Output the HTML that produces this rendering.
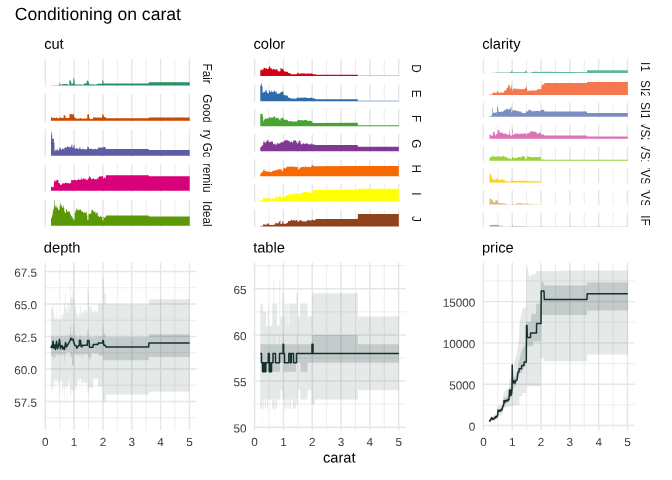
<!DOCTYPE html>
<html lang="en"><head><meta charset="utf-8"><title>Conditioning on carat</title>
<style>
html,body{margin:0;padding:0;background:#fff;}
body{width:672px;height:480px;overflow:hidden;}
svg{display:block;font-family:'Liberation Sans', Arial, Helvetica, sans-serif;will-change:transform;-webkit-font-smoothing:antialiased;}
</style></head><body>
<svg width="672" height="480" viewBox="0 0 672 480">
<rect width="672" height="480" fill="#ffffff"/>
<text transform="rotate(0.04 14.7 19.9)" x="14.7" y="19.9" font-size="17.6" fill="#000000">Conditioning on carat</text>
<text transform="rotate(0.1 44.15 48.7)" x="44.15" y="48.7" font-size="14.67" fill="#000000">cut</text>
<g><line x1="45.3" x2="45.3" y1="59" y2="86.74" stroke="#e6e6e6" stroke-width="1.42"/><line x1="59.71" x2="59.71" y1="59" y2="86.74" stroke="#e6e6e6" stroke-width="0.71"/><line x1="74.12" x2="74.12" y1="59" y2="86.74" stroke="#e6e6e6" stroke-width="1.42"/><line x1="88.53" x2="88.53" y1="59" y2="86.74" stroke="#e6e6e6" stroke-width="0.71"/><line x1="102.94" x2="102.94" y1="59" y2="86.74" stroke="#e6e6e6" stroke-width="1.42"/><line x1="117.35" x2="117.35" y1="59" y2="86.74" stroke="#e6e6e6" stroke-width="0.71"/><line x1="131.76" x2="131.76" y1="59" y2="86.74" stroke="#e6e6e6" stroke-width="1.42"/><line x1="146.17" x2="146.17" y1="59" y2="86.74" stroke="#e6e6e6" stroke-width="0.71"/><line x1="160.58" x2="160.58" y1="59" y2="86.74" stroke="#e6e6e6" stroke-width="1.42"/><line x1="174.99" x2="174.99" y1="59" y2="86.74" stroke="#e6e6e6" stroke-width="0.71"/><line x1="189.4" x2="189.4" y1="59" y2="86.74" stroke="#e6e6e6" stroke-width="1.42"/></g>
<path d="M51,85.58L51,85.23L51.58,85.23L51.58,85.23L52.15,85.23L52.15,85.23L52.73,85.23L52.73,85.23L53.31,85.23L53.31,85.23L53.88,85.23L53.88,85.23L54.46,85.23L54.46,85.23L55.03,85.23L55.03,85.23L55.61,85.23L55.61,85.23L56.19,85.23L56.19,85.23L56.76,85.23L56.76,85.23L57.34,85.23L57.34,85.23L57.92,85.23L57.92,85.23L58.49,85.23L58.49,85L59.07,85L59.07,84.33L59.65,84.33L59.65,82.7L60.22,82.7L60.22,84.77L60.8,84.77L60.8,84.7L61.37,84.7L61.38,84.64L61.95,84.64L61.95,84.36L62.53,84.36L62.53,84.33L63.1,84.33L63.1,84.08L63.68,84.08L63.68,83.98L64.26,83.98L64.26,84.06L64.83,84.06L64.83,84.18L65.41,84.18L65.41,84.07L65.99,84.07L65.99,84.03L66.56,84.03L66.56,84.26L67.14,84.26L67.14,84.35L67.72,84.35L67.72,84.69L68.29,84.69L68.29,84.84L68.87,84.84L68.87,84.71L69.44,84.71L69.44,79.96L70.02,79.96L70.02,80.58L70.6,80.58L70.6,81.3L71.17,81.3L71.17,83.38L71.75,83.38L71.75,84.13L72.33,84.13L72.33,83.82L72.9,83.82L72.9,82.63L73.48,82.63L73.48,77.86L74.06,77.86L74.06,79.76L74.63,79.76L74.63,84.11L75.21,84.11L75.21,84.41L75.78,84.41L75.79,84.4L76.36,84.4L76.36,84.39L76.94,84.39L76.94,84.62L77.51,84.62L77.51,84.44L78.09,84.44L78.09,84.31L78.67,84.31L78.67,84.79L79.24,84.79L79.24,84.45L79.82,84.45L79.82,83.89L80.4,83.89L80.4,84.42L80.97,84.42L80.97,84.41L81.55,84.41L81.55,84.66L82.13,84.66L82.13,84.66L82.7,84.66L82.7,84.66L83.28,84.66L83.28,84.49L83.85,84.49L83.85,83.78L84.43,83.78L84.43,83.46L85.01,83.46L85.01,83.58L85.58,83.58L85.58,83.32L86.16,83.32L86.16,83.71L86.74,83.71L86.74,80.52L87.31,80.52L87.31,80.82L87.89,80.82L87.89,80.69L88.47,80.69L88.47,82.43L89.04,82.43L89.04,84.55L89.62,84.55L89.62,84.22L90.19,84.22L90.2,84.37L90.77,84.37L90.77,84.29L91.35,84.29L91.35,84.4L91.92,84.4L91.92,84.17L92.5,84.17L92.5,84.38L93.08,84.38L93.08,84.56L93.65,84.56L93.65,84.34L94.23,84.34L94.23,84.38L94.81,84.38L94.81,84.64L95.38,84.64L95.38,84.44L95.96,84.44L95.96,84.31L96.54,84.31L96.54,84.33L97.11,84.33L97.11,84.15L97.69,84.15L97.69,84.04L98.26,84.04L98.26,83.55L98.84,83.55L98.84,83.79L99.42,83.79L99.42,83.43L99.99,83.43L99.99,83.67L100.57,83.67L100.57,83.76L101.15,83.76L101.15,83.71L101.72,83.71L101.72,83.75L102.3,83.75L102.3,80.58L102.88,80.58L102.88,80.63L103.45,80.63L103.45,83.58L104.03,83.58L104.03,83.49L104.6,83.49L148.7,83.53L148.9,82.33L189.7,82.33L189.7,85.58 Z" fill="#278f62"/>
<clipPath id="c0_0"><rect x="196.65" y="59" width="30" height="27.74"/></clipPath>
<g clip-path="url(#c0_0)"><text transform="translate(203.15,73.57) rotate(90) translate(0,0.42) scale(1,1.1)" text-anchor="middle" font-size="11.73" fill="#141414">Fair</text></g>
<g><line x1="45.3" x2="45.3" y1="94.07" y2="121.8" stroke="#e6e6e6" stroke-width="1.42"/><line x1="59.71" x2="59.71" y1="94.07" y2="121.8" stroke="#e6e6e6" stroke-width="0.71"/><line x1="74.12" x2="74.12" y1="94.07" y2="121.8" stroke="#e6e6e6" stroke-width="1.42"/><line x1="88.53" x2="88.53" y1="94.07" y2="121.8" stroke="#e6e6e6" stroke-width="0.71"/><line x1="102.94" x2="102.94" y1="94.07" y2="121.8" stroke="#e6e6e6" stroke-width="1.42"/><line x1="117.35" x2="117.35" y1="94.07" y2="121.8" stroke="#e6e6e6" stroke-width="0.71"/><line x1="131.76" x2="131.76" y1="94.07" y2="121.8" stroke="#e6e6e6" stroke-width="1.42"/><line x1="146.17" x2="146.17" y1="94.07" y2="121.8" stroke="#e6e6e6" stroke-width="0.71"/><line x1="160.58" x2="160.58" y1="94.07" y2="121.8" stroke="#e6e6e6" stroke-width="1.42"/><line x1="174.99" x2="174.99" y1="94.07" y2="121.8" stroke="#e6e6e6" stroke-width="0.71"/><line x1="189.4" x2="189.4" y1="94.07" y2="121.8" stroke="#e6e6e6" stroke-width="1.42"/></g>
<path d="M51,120.64L51,117.58L51.58,117.58L51.58,117.37L52.15,117.37L52.15,117.55L52.73,117.55L52.73,118.32L53.31,118.32L53.31,118.1L53.88,118.1L53.88,117.49L54.46,117.49L54.46,118.04L55.03,118.04L55.03,118.33L55.61,118.33L55.61,117.85L56.19,117.85L56.19,117.47L56.76,117.47L56.76,117.86L57.34,117.86L57.34,118.45L57.92,118.45L57.92,118.35L58.49,118.35L58.49,118.17L59.07,118.17L59.07,118.13L59.65,118.13L59.65,117.07L60.22,117.07L60.22,117.87L60.8,117.87L60.8,117.8L61.37,117.8L61.38,118.08L61.95,118.08L61.95,118.03L62.53,118.03L62.53,117.77L63.1,117.77L63.1,117.96L63.68,117.96L63.68,115.03L64.26,115.03L64.26,115.4L64.83,115.4L64.83,115.23L65.41,115.23L65.41,117.81L65.99,117.81L65.99,117.87L66.56,117.87L66.56,117.97L67.14,117.97L67.14,118.18L67.72,118.18L67.72,117.91L68.29,117.91L68.29,117.98L68.87,117.98L68.87,117.86L69.44,117.86L69.44,114.22L70.02,114.22L70.02,113.93L70.6,113.93L70.6,114.31L71.17,114.31L71.17,114.22L71.75,114.22L71.75,114.07L72.33,114.07L72.33,114.65L72.9,114.65L72.9,114.42L73.48,114.42L73.48,113.87L74.06,113.87L74.06,117.1L74.63,117.1L74.63,117.64L75.21,117.64L75.21,118.09L75.78,118.09L75.79,118.41L76.36,118.41L76.36,118.58L76.94,118.58L76.94,118.81L77.51,118.81L77.51,118.46L78.09,118.46L78.09,118.7L78.67,118.7L78.67,118.57L79.24,118.57L79.24,118.53L79.82,118.53L79.82,118.07L80.4,118.07L80.4,118.06L80.97,118.06L80.97,118.46L81.55,118.46L81.55,118.87L82.13,118.87L82.13,118.85L82.7,118.85L82.7,118.63L83.28,118.63L83.28,118.49L83.85,118.49L83.85,118.56L84.43,118.56L84.43,118.53L85.01,118.53L85.01,118.7L85.58,118.7L85.58,118.43L86.16,118.43L86.16,118.33L86.74,118.33L86.74,118.56L87.31,118.56L87.31,114.77L87.89,114.77L87.89,114.54L88.47,114.54L88.47,114.04L89.04,114.04L89.04,117.48L89.62,117.48L89.62,119L90.19,119L90.2,119.13L90.77,119.13L90.77,119.01L91.35,119.01L91.35,119.02L91.92,119.02L91.92,118.99L92.5,118.99L92.5,118.79L93.08,118.79L93.08,117.41L93.65,117.41L93.65,117.23L94.23,117.23L94.23,117.52L94.81,117.52L94.81,117.59L95.38,117.59L95.38,117.42L95.96,117.42L95.96,117.81L96.54,117.81L96.54,117.5L97.11,117.5L97.11,117.46L97.69,117.46L97.69,117.74L98.26,117.74L98.26,117.4L98.84,117.4L98.84,117.6L99.42,117.6L99.42,117.81L99.99,117.81L99.99,117.53L100.57,117.53L100.57,117.69L101.15,117.69L101.15,117.59L101.72,117.59L101.72,117.52L102.3,117.52L102.3,114.09L102.88,114.09L102.88,114.46L103.45,114.46L103.45,115.77L104.03,115.77L104.03,116.91L104.6,116.91L105.5,116.99L105.8,118.29L148.7,118.29L148.9,117.59L189.7,117.59L189.7,120.64 Z" fill="#ca4800"/>
<clipPath id="c0_1"><rect x="196.65" y="94.07" width="30" height="27.74"/></clipPath>
<g clip-path="url(#c0_1)"><text transform="translate(203.15,108.63) rotate(90) translate(0,0.42) scale(1,1.1)" text-anchor="middle" font-size="11.73" fill="#141414">Good</text></g>
<g><line x1="45.3" x2="45.3" y1="129.13" y2="156.87" stroke="#e6e6e6" stroke-width="1.42"/><line x1="59.71" x2="59.71" y1="129.13" y2="156.87" stroke="#e6e6e6" stroke-width="0.71"/><line x1="74.12" x2="74.12" y1="129.13" y2="156.87" stroke="#e6e6e6" stroke-width="1.42"/><line x1="88.53" x2="88.53" y1="129.13" y2="156.87" stroke="#e6e6e6" stroke-width="0.71"/><line x1="102.94" x2="102.94" y1="129.13" y2="156.87" stroke="#e6e6e6" stroke-width="1.42"/><line x1="117.35" x2="117.35" y1="129.13" y2="156.87" stroke="#e6e6e6" stroke-width="0.71"/><line x1="131.76" x2="131.76" y1="129.13" y2="156.87" stroke="#e6e6e6" stroke-width="1.42"/><line x1="146.17" x2="146.17" y1="129.13" y2="156.87" stroke="#e6e6e6" stroke-width="0.71"/><line x1="160.58" x2="160.58" y1="129.13" y2="156.87" stroke="#e6e6e6" stroke-width="1.42"/><line x1="174.99" x2="174.99" y1="129.13" y2="156.87" stroke="#e6e6e6" stroke-width="0.71"/><line x1="189.4" x2="189.4" y1="129.13" y2="156.87" stroke="#e6e6e6" stroke-width="1.42"/></g>
<path d="M51,155.71L51,131.91L51.58,131.91L51.58,134.7L52.15,134.7L52.15,138.76L52.73,138.76L52.73,138.95L53.31,138.95L53.31,138.42L53.88,138.42L53.88,142.54L54.46,142.54L54.46,151.34L55.03,151.34L55.03,150.6L55.61,150.6L55.61,149.25L56.19,149.25L56.19,150.38L56.76,150.38L56.76,149.71L57.34,149.71L57.34,149.33L57.92,149.33L57.92,150.81L58.49,150.81L58.49,150.19L59.07,150.19L59.07,148.69L59.65,148.69L59.65,147.28L60.22,147.28L60.22,148.24L60.8,148.24L60.8,149.6L61.37,149.6L61.38,149.43L61.95,149.43L61.95,148.72L62.53,148.72L62.53,148.63L63.1,148.63L63.1,148.64L63.68,148.64L63.68,149.53L64.26,149.53L64.26,148.12L64.83,148.12L64.83,148.11L65.41,148.11L65.41,146.87L65.99,146.87L65.99,148.03L66.56,148.03L66.56,147.02L67.14,147.02L67.14,146.26L67.72,146.26L67.72,147.04L68.29,147.04L68.29,147.08L68.87,147.08L68.87,146.34L69.44,146.34L69.44,147.69L70.02,147.69L70.02,147.35L70.6,147.35L70.6,147.09L71.17,147.09L71.17,145.55L71.75,145.55L71.75,144.24L72.33,144.24L72.33,147.64L72.9,147.64L72.9,147.54L73.48,147.54L73.48,145.51L74.06,145.51L74.06,144.96L74.63,144.96L74.63,148.72L75.21,148.72L75.21,148.9L75.78,148.9L75.79,147.67L76.36,147.67L76.36,148.35L76.94,148.35L76.94,148.61L77.51,148.61L77.51,148.54L78.09,148.54L78.09,149.14L78.67,149.14L78.67,148.99L79.24,148.99L79.24,147.49L79.82,147.49L79.82,147.38L80.4,147.38L80.4,148.98L80.97,148.98L80.97,149.61L81.55,149.61L81.55,149.06L82.13,149.06L82.13,149.49L82.7,149.49L82.7,148.49L83.28,148.49L83.28,148.75L83.85,148.75L83.85,149.28L84.43,149.28L84.43,149.61L85.01,149.61L85.01,149.38L85.58,149.38L85.58,149.12L86.16,149.12L86.16,149.45L86.74,149.45L86.74,149L87.31,149L87.31,146.58L87.89,146.58L87.89,147.04L88.47,147.04L88.47,147.53L89.04,147.53L89.04,148.73L89.62,148.73L89.62,149.11L90.19,149.11L90.2,148.7L90.77,148.7L90.77,149.12L91.35,149.12L91.35,148.43L91.92,148.43L91.92,149.1L92.5,149.1L92.5,149.38L93.08,149.38L93.08,148.97L93.65,148.97L93.65,149.23L94.23,149.23L94.23,149.34L94.81,149.34L94.81,149.05L95.38,149.05L95.38,148.74L95.96,148.74L95.96,149.52L96.54,149.52L96.54,149.02L97.11,149.02L97.11,149.06L97.69,149.06L97.69,148.62L98.26,148.62L98.26,147.17L98.84,147.17L98.84,148.06L99.42,148.06L99.42,147.23L99.99,147.23L99.99,147.6L100.57,147.6L100.57,147.46L101.15,147.46L101.15,147.6L101.72,147.6L101.72,147.65L102.3,147.65L102.3,147.73L102.88,147.73L102.88,147.33L103.45,147.33L103.45,146.63L104.03,146.63L104.03,147.06L104.6,147.06L105.6,147.46L105.9,148.96L148.7,148.96L148.9,150.06L189.7,150.06L189.7,155.71 Z" fill="#605ba6"/>
<clipPath id="c0_2"><rect x="196.65" y="129.13" width="30" height="27.74"/></clipPath>
<g clip-path="url(#c0_2)"><text transform="translate(203.15,143.7) rotate(90) translate(0,0.42) scale(1,1.1)" text-anchor="middle" font-size="11.73" fill="#141414">Very Good</text></g>
<g><line x1="45.3" x2="45.3" y1="164.2" y2="191.93" stroke="#e6e6e6" stroke-width="1.42"/><line x1="59.71" x2="59.71" y1="164.2" y2="191.93" stroke="#e6e6e6" stroke-width="0.71"/><line x1="74.12" x2="74.12" y1="164.2" y2="191.93" stroke="#e6e6e6" stroke-width="1.42"/><line x1="88.53" x2="88.53" y1="164.2" y2="191.93" stroke="#e6e6e6" stroke-width="0.71"/><line x1="102.94" x2="102.94" y1="164.2" y2="191.93" stroke="#e6e6e6" stroke-width="1.42"/><line x1="117.35" x2="117.35" y1="164.2" y2="191.93" stroke="#e6e6e6" stroke-width="0.71"/><line x1="131.76" x2="131.76" y1="164.2" y2="191.93" stroke="#e6e6e6" stroke-width="1.42"/><line x1="146.17" x2="146.17" y1="164.2" y2="191.93" stroke="#e6e6e6" stroke-width="0.71"/><line x1="160.58" x2="160.58" y1="164.2" y2="191.93" stroke="#e6e6e6" stroke-width="1.42"/><line x1="174.99" x2="174.99" y1="164.2" y2="191.93" stroke="#e6e6e6" stroke-width="0.71"/><line x1="189.4" x2="189.4" y1="164.2" y2="191.93" stroke="#e6e6e6" stroke-width="1.42"/></g>
<path d="M51,190.77L51,187L51.58,187L51.58,186.74L52.15,186.74L52.15,187.23L52.73,187.23L52.73,186.8L53.31,186.8L53.31,187.08L53.88,187.08L53.88,181.69L54.46,181.69L54.46,180.56L55.03,180.56L55.03,181.42L55.61,181.42L55.61,180.17L56.19,180.17L56.19,180.78L56.76,180.78L56.76,179.41L57.34,179.41L57.34,179.95L57.92,179.95L57.92,180.16L58.49,180.16L58.49,183.02L59.07,183.02L59.07,182.9L59.65,182.9L59.65,183.94L60.22,183.94L60.22,184.91L60.8,184.91L60.8,185.03L61.37,185.03L61.38,184.52L61.95,184.52L61.95,183.59L62.53,183.59L62.53,183.42L63.1,183.42L63.1,183.3L63.68,183.3L63.68,183.44L64.26,183.44L64.26,183.6L64.83,183.6L64.83,182.82L65.41,182.82L65.41,182.66L65.99,182.66L65.99,182.66L66.56,182.66L66.56,183.34L67.14,183.34L67.14,183.07L67.72,183.07L67.72,183.36L68.29,183.36L68.29,182.89L68.87,182.89L68.87,183.44L69.44,183.44L69.44,183.53L70.02,183.53L70.02,182.6L70.6,182.6L70.6,183.29L71.17,183.29L71.17,179.99L71.75,179.99L71.75,180.08L72.33,180.08L72.33,180.36L72.9,180.36L72.9,180.12L73.48,180.12L73.48,180.23L74.06,180.23L74.06,179.75L74.63,179.75L74.63,180.11L75.21,180.11L75.21,179.99L75.78,179.99L75.79,180.14L76.36,180.14L76.36,180.48L76.94,180.48L76.94,179.92L77.51,179.92L77.51,180.03L78.09,180.03L78.09,178.53L78.67,178.53L78.67,180.01L79.24,180.01L79.24,179.73L79.82,179.73L79.82,179.6L80.4,179.6L80.4,179.69L80.97,179.69L80.97,177.6L81.55,177.6L81.55,179.67L82.13,179.67L82.13,179.06L82.7,179.06L82.7,179.34L83.28,179.34L83.28,178.05L83.85,178.05L83.85,179.74L84.43,179.74L84.43,178.15L85.01,178.15L85.01,179.05L85.58,179.05L85.58,179.29L86.16,179.29L86.16,179.99L86.74,179.99L86.74,179.35L87.31,179.35L87.31,180.27L87.89,180.27L87.89,179.36L88.47,179.36L88.47,177.99L89.04,177.99L89.04,175.98L89.62,175.98L89.62,177.31L90.19,177.31L90.2,177.13L90.77,177.13L90.77,178.49L91.35,178.49L91.35,179.29L91.92,179.29L91.92,178.85L92.5,178.85L92.5,179.28L93.08,179.28L93.08,178.1L93.65,178.1L93.65,178.91L94.23,178.91L94.23,179.14L94.81,179.14L94.81,179.15L95.38,179.15L95.38,179.14L95.96,179.14L95.96,179.12L96.54,179.12L96.54,179.51L97.11,179.51L97.11,177.87L97.69,177.87L97.69,179.2L98.26,179.2L98.26,177.49L98.84,177.49L98.84,176.51L99.42,176.51L99.42,176.52L99.99,176.52L99.99,176.17L100.57,176.17L100.57,176.56L101.15,176.56L101.15,176.52L101.72,176.52L101.72,176.2L102.3,176.2L102.3,175.78L102.88,175.78L102.88,177.15L103.45,177.15L103.45,178.94L104.03,178.94L104.03,177.61L104.6,177.61L105.6,178.72L105.9,175.22L148.7,175.22L148.9,176.22L189.7,176.22L189.7,190.77 Z" fill="#d90179"/>
<clipPath id="c0_3"><rect x="196.65" y="164.2" width="30" height="27.74"/></clipPath>
<g clip-path="url(#c0_3)"><text transform="translate(203.15,178.77) rotate(90) translate(0,0.42) scale(1,1.1)" text-anchor="middle" font-size="11.73" fill="#141414">Premium</text></g>
<g><line x1="45.3" x2="45.3" y1="199.26" y2="227" stroke="#e6e6e6" stroke-width="1.42"/><line x1="59.71" x2="59.71" y1="199.26" y2="227" stroke="#e6e6e6" stroke-width="0.71"/><line x1="74.12" x2="74.12" y1="199.26" y2="227" stroke="#e6e6e6" stroke-width="1.42"/><line x1="88.53" x2="88.53" y1="199.26" y2="227" stroke="#e6e6e6" stroke-width="0.71"/><line x1="102.94" x2="102.94" y1="199.26" y2="227" stroke="#e6e6e6" stroke-width="1.42"/><line x1="117.35" x2="117.35" y1="199.26" y2="227" stroke="#e6e6e6" stroke-width="0.71"/><line x1="131.76" x2="131.76" y1="199.26" y2="227" stroke="#e6e6e6" stroke-width="1.42"/><line x1="146.17" x2="146.17" y1="199.26" y2="227" stroke="#e6e6e6" stroke-width="0.71"/><line x1="160.58" x2="160.58" y1="199.26" y2="227" stroke="#e6e6e6" stroke-width="1.42"/><line x1="174.99" x2="174.99" y1="199.26" y2="227" stroke="#e6e6e6" stroke-width="0.71"/><line x1="189.4" x2="189.4" y1="199.26" y2="227" stroke="#e6e6e6" stroke-width="1.42"/></g>
<path d="M51,225.84L51,218.31L51.58,218.31L51.58,216.99L52.15,216.99L52.15,215.21L52.73,215.21L52.73,211.23L53.31,211.23L53.31,209.02L53.88,209.02L53.88,206.34L54.46,206.34L54.46,200.14L55.03,200.14L55.03,207.35L55.61,207.35L55.61,204.68L56.19,204.68L56.19,207.6L56.76,207.6L56.76,206.4L57.34,206.4L57.34,208.11L57.92,208.11L57.92,209.77L58.49,209.77L58.49,210.02L59.07,210.02L59.07,209.44L59.65,209.44L59.65,206.17L60.22,206.17L60.22,203.26L60.8,203.26L60.8,205.48L61.37,205.48L61.38,205.28L61.95,205.28L61.95,207.46L62.53,207.46L62.53,207.68L63.1,207.68L63.1,205.53L63.68,205.53L63.68,207.58L64.26,207.58L64.26,211.28L64.83,211.28L64.83,212.85L65.41,212.85L65.41,213.01L65.99,213.01L65.99,209.52L66.56,209.52L66.56,209.58L67.14,209.58L67.14,211.84L67.72,211.84L67.72,211.51L68.29,211.51L68.29,211.48L68.87,211.48L68.87,211.51L69.44,211.51L69.44,211.64L70.02,211.64L70.02,213.96L70.6,213.96L70.6,215.31L71.17,215.31L71.17,216.16L71.75,216.16L71.75,216.46L72.33,216.46L72.33,218.29L72.9,218.29L72.9,218.29L73.48,218.29L73.48,220.6L74.06,220.6L74.06,219.77L74.63,219.77L74.63,213.19L75.21,213.19L75.21,211.46L75.78,211.46L75.79,209.83L76.36,209.83L76.36,208.23L76.94,208.23L76.94,209.18L77.51,209.18L77.51,210.31L78.09,210.31L78.09,210.59L78.67,210.59L78.67,209.43L79.24,209.43L79.24,210.04L79.82,210.04L79.82,209.67L80.4,209.67L80.4,209.58L80.97,209.58L80.97,211.32L81.55,211.32L81.55,210.72L82.13,210.72L82.13,211.56L82.7,211.56L82.7,212.3L83.28,212.3L83.28,212.65L83.85,212.65L83.85,212.07L84.43,212.07L84.43,212.63L85.01,212.63L85.01,212.67L85.58,212.67L85.58,212.94L86.16,212.94L86.16,211.46L86.74,211.46L86.74,215.28L87.31,215.28L87.31,219.84L87.89,219.84L87.89,220.07L88.47,220.07L88.47,214.33L89.04,214.33L89.04,213.82L89.62,213.82L89.62,214.04L90.19,214.04L90.2,214.12L90.77,214.12L90.77,213.01L91.35,213.01L91.35,210.34L91.92,210.34L91.92,209.75L92.5,209.75L92.5,210.04L93.08,210.04L93.08,211.27L93.65,211.27L93.65,211.66L94.23,211.66L94.23,212.33L94.81,212.33L94.81,211.36L95.38,211.36L95.38,213.53L95.96,213.53L95.96,212.74L96.54,212.74L96.54,213.58L97.11,213.58L97.11,212.08L97.69,212.08L97.69,216.25L98.26,216.25L98.26,215.5L98.84,215.5L98.84,216.46L99.42,216.46L99.42,217.04L99.99,217.04L99.99,215.69L100.57,215.69L100.57,216.92L101.15,216.92L101.15,216.88L101.72,216.88L101.72,216.37L102.3,216.37L102.3,220.2L102.88,220.2L102.88,220.54L103.45,220.54L103.45,217.01L104.03,217.01L104.03,217.78L104.6,217.78L105.8,217.09L106.1,215.59L148.7,215.59L148.9,216.39L189.7,216.39L189.7,225.84 Z" fill="#5a9806"/>
<clipPath id="c0_4"><rect x="196.65" y="199.26" width="30" height="27.74"/></clipPath>
<g clip-path="url(#c0_4)"><text transform="translate(203.15,213.83) rotate(90) translate(0,0.42) scale(1,1.1)" text-anchor="middle" font-size="11.73" fill="#141414">Ideal</text></g>
<text transform="rotate(0.1 253.45 48.7)" x="253.45" y="48.7" font-size="14.67" fill="#000000">color</text>
<g><line x1="254.6" x2="254.6" y1="59" y2="76.72" stroke="#e6e6e6" stroke-width="1.42"/><line x1="269.01" x2="269.01" y1="59" y2="76.72" stroke="#e6e6e6" stroke-width="0.71"/><line x1="283.42" x2="283.42" y1="59" y2="76.72" stroke="#e6e6e6" stroke-width="1.42"/><line x1="297.83" x2="297.83" y1="59" y2="76.72" stroke="#e6e6e6" stroke-width="0.71"/><line x1="312.24" x2="312.24" y1="59" y2="76.72" stroke="#e6e6e6" stroke-width="1.42"/><line x1="326.65" x2="326.65" y1="59" y2="76.72" stroke="#e6e6e6" stroke-width="0.71"/><line x1="341.06" x2="341.06" y1="59" y2="76.72" stroke="#e6e6e6" stroke-width="1.42"/><line x1="355.47" x2="355.47" y1="59" y2="76.72" stroke="#e6e6e6" stroke-width="0.71"/><line x1="369.88" x2="369.88" y1="59" y2="76.72" stroke="#e6e6e6" stroke-width="1.42"/><line x1="384.29" x2="384.29" y1="59" y2="76.72" stroke="#e6e6e6" stroke-width="0.71"/><line x1="398.7" x2="398.7" y1="59" y2="76.72" stroke="#e6e6e6" stroke-width="1.42"/></g>
<path d="M260.3,76.11L260.3,69.91L260.88,69.91L260.88,69.85L261.45,69.85L261.45,70.05L262.03,70.05L262.03,70.43L262.61,70.43L262.61,68.68L263.18,68.68L263.18,69.25L263.76,69.25L263.76,67.52L264.33,67.52L264.33,68.1L264.91,68.1L264.91,68.34L265.49,68.34L265.49,68.58L266.06,68.58L266.06,67.78L266.64,67.78L266.64,68.92L267.22,68.92L267.22,68.89L267.79,68.89L267.79,68.9L268.37,68.9L268.37,68.3L268.95,68.3L268.95,66.55L269.52,66.55L269.52,66.36L270.1,66.36L270.1,68.29L270.67,68.29L270.68,68.38L271.25,68.38L271.25,68.2L271.83,68.2L271.83,69.25L272.4,69.25L272.4,69.63L272.98,69.63L272.98,69.01L273.56,69.01L273.56,68.47L274.13,68.47L274.13,69.75L274.71,69.75L274.71,69.46L275.29,69.46L275.29,69.13L275.86,69.13L275.86,69.39L276.44,69.39L276.44,69.32L277.02,69.32L277.02,69.43L277.59,69.43L277.59,70.96L278.17,70.96L278.17,71.2L278.74,71.2L278.74,71.16L279.32,71.16L279.32,71.53L279.9,71.53L279.9,71.04L280.47,71.04L280.47,67.96L281.05,67.96L281.05,68.38L281.63,68.38L281.63,68.75L282.2,68.75L282.2,69.1L282.78,69.1L282.78,68.78L283.36,68.78L283.36,70.2L283.93,70.2L283.93,71.23L284.51,71.23L284.51,71.62L285.08,71.62L285.09,71.55L285.66,71.55L285.66,71.74L286.24,71.74L286.24,71.83L286.81,71.83L286.81,71.59L287.39,71.59L287.39,72.03L287.97,72.03L287.97,73.07L288.54,73.07L288.54,72.78L289.12,72.78L289.12,73.17L289.7,73.17L289.7,73.04L290.27,73.04L290.27,73.58L290.85,73.58L290.85,74.31L291.43,74.31L291.43,74.41L292,74.41L292,74.19L292.58,74.19L292.58,74.11L293.15,74.11L293.15,74.41L293.73,74.41L293.73,74.27L294.31,74.27L294.31,74.29L294.88,74.29L294.88,74.05L295.46,74.05L295.46,74.41L296.04,74.41L296.04,74.26L296.61,74.26L296.61,74.1L297.19,74.1L297.19,72.93L297.77,72.93L297.77,72.61L298.34,72.61L298.34,73.59L298.92,73.59L298.92,73.56L299.49,73.56L299.5,73.65L300.07,73.65L300.07,73.76L300.65,73.76L300.65,73.38L301.22,73.38L301.22,73.29L301.8,73.29L301.8,73.53L302.38,73.53L302.38,73.59L302.95,73.59L302.95,73.31L303.53,73.31L303.53,73.45L304.11,73.45L304.11,73.49L304.68,73.49L304.68,73.38L305.26,73.38L305.26,73.68L305.84,73.68L305.84,73.67L306.41,73.67L306.41,73.51L306.99,73.51L306.99,73.71L307.56,73.71L307.56,73.52L308.14,73.52L308.14,73.49L308.72,73.49L308.72,73.43L309.29,73.43L309.29,73.44L309.87,73.44L309.87,73.76L310.45,73.76L310.45,73.55L311.02,73.55L311.02,73.47L311.6,73.47L311.6,73.36L312.18,73.36L312.18,73.69L312.75,73.69L312.75,74.26L313.33,74.26L313.33,74.25L313.9,74.25L315.5,74.21L316,74.67L357.7,74.67L357.9,75.66L398.8,75.66L398.8,76.11 Z" fill="#d50015"/>
<clipPath id="c1_0"><rect x="405.95" y="59" width="30" height="17.72"/></clipPath>
<g clip-path="url(#c1_0)"><text transform="translate(412.45,68.56) rotate(90) translate(0,0.42) scale(1,1.1)" text-anchor="middle" font-size="11.73" fill="#141414">D</text></g>
<g><line x1="254.6" x2="254.6" y1="84.05" y2="101.76" stroke="#e6e6e6" stroke-width="1.42"/><line x1="269.01" x2="269.01" y1="84.05" y2="101.76" stroke="#e6e6e6" stroke-width="0.71"/><line x1="283.42" x2="283.42" y1="84.05" y2="101.76" stroke="#e6e6e6" stroke-width="1.42"/><line x1="297.83" x2="297.83" y1="84.05" y2="101.76" stroke="#e6e6e6" stroke-width="0.71"/><line x1="312.24" x2="312.24" y1="84.05" y2="101.76" stroke="#e6e6e6" stroke-width="1.42"/><line x1="326.65" x2="326.65" y1="84.05" y2="101.76" stroke="#e6e6e6" stroke-width="0.71"/><line x1="341.06" x2="341.06" y1="84.05" y2="101.76" stroke="#e6e6e6" stroke-width="1.42"/><line x1="355.47" x2="355.47" y1="84.05" y2="101.76" stroke="#e6e6e6" stroke-width="0.71"/><line x1="369.88" x2="369.88" y1="84.05" y2="101.76" stroke="#e6e6e6" stroke-width="1.42"/><line x1="384.29" x2="384.29" y1="84.05" y2="101.76" stroke="#e6e6e6" stroke-width="0.71"/><line x1="398.7" x2="398.7" y1="84.05" y2="101.76" stroke="#e6e6e6" stroke-width="1.42"/></g>
<path d="M260.3,101.16L260.3,85.38L260.88,85.38L260.88,85.19L261.45,85.19L261.45,83.36L262.03,83.36L262.03,86.71L262.61,86.71L262.61,93.05L263.18,93.05L263.18,92.17L263.76,92.17L263.76,91.71L264.33,91.71L264.33,91.82L264.91,91.82L264.91,92.05L265.49,92.05L265.49,90.1L266.06,90.1L266.06,90.1L266.64,90.1L266.64,91.71L267.22,91.71L267.22,93.02L267.79,93.02L267.79,93.46L268.37,93.46L268.37,93.03L268.95,93.03L268.95,90.11L269.52,90.11L269.52,91.02L270.1,91.02L270.1,91.94L270.67,91.94L270.68,92.37L271.25,92.37L271.25,90.62L271.83,90.62L271.83,91.66L272.4,91.66L272.4,91.92L272.98,91.92L272.98,92.27L273.56,92.27L273.56,91.15L274.13,91.15L274.13,90.26L274.71,90.26L274.71,91.57L275.29,91.57L275.29,91.95L275.86,91.95L275.86,91.22L276.44,91.22L276.44,93.29L277.02,93.29L277.02,93.81L277.59,93.81L277.59,93.84L278.17,93.84L278.17,93.3L278.74,93.3L278.74,94.01L279.32,94.01L279.32,93.25L279.9,93.25L279.9,93.15L280.47,93.15L280.47,91.84L281.05,91.84L281.05,92.25L281.63,92.25L281.63,91.95L282.2,91.95L282.2,91.18L282.78,91.18L282.78,91.77L283.36,91.77L283.36,94.67L283.93,94.67L283.93,95.07L284.51,95.07L284.51,95.18L285.08,95.18L285.09,95.35L285.66,95.35L285.66,95.44L286.24,95.44L286.24,95.55L286.81,95.55L286.81,95.59L287.39,95.59L287.39,96.3L287.97,96.3L287.97,97.49L288.54,97.49L288.54,97.75L289.12,97.75L289.12,97.69L289.7,97.69L289.7,97.74L290.27,97.74L290.27,98.34L290.85,98.34L290.85,98.66L291.43,98.66L291.43,98.77L292,98.77L292,98.37L292.58,98.37L292.58,98.74L293.15,98.74L293.15,98.87L293.73,98.87L293.73,98.6L294.31,98.6L294.31,98.66L294.88,98.66L294.88,98.52L295.46,98.52L295.46,98.63L296.04,98.63L296.04,98.37L296.61,98.37L296.61,98.52L297.19,98.52L297.19,97.51L297.77,97.51L297.77,97.38L298.34,97.38L298.34,97.65L298.92,97.65L298.92,97.88L299.49,97.88L299.5,97.44L300.07,97.44L300.07,97.89L300.65,97.89L300.65,97.5L301.22,97.5L301.22,97.49L301.8,97.49L301.8,97.51L302.38,97.51L302.38,97.91L302.95,97.91L302.95,97.44L303.53,97.44L303.53,97.75L304.11,97.75L304.11,97.54L304.68,97.54L304.68,97.7L305.26,97.7L305.26,97.25L305.84,97.25L305.84,97.75L306.41,97.75L306.41,97.69L306.99,97.69L306.99,97.9L307.56,97.9L307.56,98.22L308.14,98.22L308.14,98.04L308.72,98.04L308.72,98L309.29,98L309.29,97.91L309.87,97.91L309.87,98.02L310.45,98.02L310.45,97.63L311.02,97.63L311.02,97.6L311.6,97.6L311.6,97.73L312.18,97.73L312.18,98.22L312.75,98.22L312.75,98.45L313.33,98.45L313.33,98.22L313.9,98.22L315,98.56L315.4,99.16L357.7,99.16L357.9,100.63L398.8,100.63L398.8,101.16 Z" fill="#2e6bab"/>
<clipPath id="c1_1"><rect x="405.95" y="84.05" width="30" height="17.72"/></clipPath>
<g clip-path="url(#c1_1)"><text transform="translate(412.45,93.61) rotate(90) translate(0,0.42) scale(1,1.1)" text-anchor="middle" font-size="11.73" fill="#141414">E</text></g>
<g><line x1="254.6" x2="254.6" y1="109.09" y2="126.81" stroke="#e6e6e6" stroke-width="1.42"/><line x1="269.01" x2="269.01" y1="109.09" y2="126.81" stroke="#e6e6e6" stroke-width="0.71"/><line x1="283.42" x2="283.42" y1="109.09" y2="126.81" stroke="#e6e6e6" stroke-width="1.42"/><line x1="297.83" x2="297.83" y1="109.09" y2="126.81" stroke="#e6e6e6" stroke-width="0.71"/><line x1="312.24" x2="312.24" y1="109.09" y2="126.81" stroke="#e6e6e6" stroke-width="1.42"/><line x1="326.65" x2="326.65" y1="109.09" y2="126.81" stroke="#e6e6e6" stroke-width="0.71"/><line x1="341.06" x2="341.06" y1="109.09" y2="126.81" stroke="#e6e6e6" stroke-width="1.42"/><line x1="355.47" x2="355.47" y1="109.09" y2="126.81" stroke="#e6e6e6" stroke-width="0.71"/><line x1="369.88" x2="369.88" y1="109.09" y2="126.81" stroke="#e6e6e6" stroke-width="1.42"/><line x1="384.29" x2="384.29" y1="109.09" y2="126.81" stroke="#e6e6e6" stroke-width="0.71"/><line x1="398.7" x2="398.7" y1="109.09" y2="126.81" stroke="#e6e6e6" stroke-width="1.42"/></g>
<path d="M260.3,126.21L260.3,113.96L260.88,113.96L260.88,113.8L261.45,113.8L261.45,113.99L262.03,113.99L262.03,113.66L262.61,113.66L262.61,116.74L263.18,116.74L263.18,121.45L263.76,121.45L263.76,120.34L264.33,120.34L264.33,119.33L264.91,119.33L264.91,117.71L265.49,117.71L265.49,118.99L266.06,118.99L266.06,119.07L266.64,119.07L266.64,118.77L267.22,118.77L267.22,117.76L267.79,117.76L267.79,119.02L268.37,119.02L268.37,117.83L268.95,117.83L268.95,117.34L269.52,117.34L269.52,117.6L270.1,117.6L270.1,117.73L270.67,117.73L270.68,117.72L271.25,117.72L271.25,117.37L271.83,117.37L271.83,117.72L272.4,117.72L272.4,117.54L272.98,117.54L272.98,117.39L273.56,117.39L273.56,116.34L274.13,116.34L274.13,116.3L274.71,116.3L274.71,116.87L275.29,116.87L275.29,118.23L275.86,118.23L275.86,118.05L276.44,118.05L276.44,117.82L277.02,117.82L277.02,117.94L277.59,117.94L277.59,118.4L278.17,118.4L278.17,117.59L278.74,117.59L278.74,118.92L279.32,118.92L279.32,120.13L279.9,120.13L279.9,120.52L280.47,120.52L280.47,118.6L281.05,118.6L281.05,117.91L281.63,117.91L281.63,118.23L282.2,118.23L282.2,117.97L282.78,117.97L282.78,117.27L283.36,117.27L283.36,119.36L283.93,119.36L283.93,119.39L284.51,119.39L284.51,119.72L285.08,119.72L285.09,119.66L285.66,119.66L285.66,119.81L286.24,119.81L286.24,120L286.81,120L286.81,119.53L287.39,119.53L287.39,120.31L287.97,120.31L287.97,121.62L288.54,121.62L288.54,121.09L289.12,121.09L289.12,121.55L289.7,121.55L289.7,121.09L290.27,121.09L290.27,120.94L290.85,120.94L290.85,121.49L291.43,121.49L291.43,121.53L292,121.53L292,120.94L292.58,120.94L292.58,121.68L293.15,121.68L293.15,121.66L293.73,121.66L293.73,121.62L294.31,121.62L294.31,121.67L294.88,121.67L294.88,121.23L295.46,121.23L295.46,121.64L296.04,121.64L296.04,122.04L296.61,122.04L296.61,121.11L297.19,121.11L297.19,120.44L297.77,120.44L297.77,120.45L298.34,120.45L298.34,119.78L298.92,119.78L298.92,120.05L299.49,120.05L299.5,120.09L300.07,120.09L300.07,120.5L300.65,120.5L300.65,120.32L301.22,120.32L301.22,119.86L301.8,119.86L301.8,120.12L302.38,120.12L302.38,120.38L302.95,120.38L302.95,120.72L303.53,120.72L303.53,120.17L304.11,120.17L304.11,120.25L304.68,120.25L304.68,120.01L305.26,120.01L305.26,120.1L305.84,120.1L305.84,120.04L306.41,120.04L306.41,120.29L306.99,120.29L306.99,120.8L307.56,120.8L307.56,121.02L308.14,121.02L308.14,120.81L308.72,120.81L308.72,120.79L309.29,120.79L309.29,120.8L309.87,120.8L309.87,121.11L310.45,121.11L310.45,120.79L311.02,120.79L311.02,120.94L311.6,120.94L311.6,121.18L312.18,121.18L312.18,122.8L312.75,122.8L312.75,122.68L313.33,122.68L313.33,122.9L313.9,122.9L357.7,122.81L357.9,125.25L398.8,125.25L398.8,126.21 Z" fill="#48a234"/>
<clipPath id="c1_2"><rect x="405.95" y="109.09" width="30" height="17.72"/></clipPath>
<g clip-path="url(#c1_2)"><text transform="translate(412.45,118.65) rotate(90) translate(0,0.42) scale(1,1.1)" text-anchor="middle" font-size="11.73" fill="#141414">F</text></g>
<g><line x1="254.6" x2="254.6" y1="134.14" y2="151.86" stroke="#e6e6e6" stroke-width="1.42"/><line x1="269.01" x2="269.01" y1="134.14" y2="151.86" stroke="#e6e6e6" stroke-width="0.71"/><line x1="283.42" x2="283.42" y1="134.14" y2="151.86" stroke="#e6e6e6" stroke-width="1.42"/><line x1="297.83" x2="297.83" y1="134.14" y2="151.86" stroke="#e6e6e6" stroke-width="0.71"/><line x1="312.24" x2="312.24" y1="134.14" y2="151.86" stroke="#e6e6e6" stroke-width="1.42"/><line x1="326.65" x2="326.65" y1="134.14" y2="151.86" stroke="#e6e6e6" stroke-width="0.71"/><line x1="341.06" x2="341.06" y1="134.14" y2="151.86" stroke="#e6e6e6" stroke-width="1.42"/><line x1="355.47" x2="355.47" y1="134.14" y2="151.86" stroke="#e6e6e6" stroke-width="0.71"/><line x1="369.88" x2="369.88" y1="134.14" y2="151.86" stroke="#e6e6e6" stroke-width="1.42"/><line x1="384.29" x2="384.29" y1="134.14" y2="151.86" stroke="#e6e6e6" stroke-width="0.71"/><line x1="398.7" x2="398.7" y1="134.14" y2="151.86" stroke="#e6e6e6" stroke-width="1.42"/></g>
<path d="M260.3,151.25L260.3,147.02L260.88,147.02L260.88,147.28L261.45,147.28L261.45,145.74L262.03,145.74L262.03,145.81L262.61,145.81L262.61,145.02L263.18,145.02L263.18,142.27L263.76,142.27L263.76,140.62L264.33,140.62L264.33,142.45L264.91,142.45L264.91,143.29L265.49,143.29L265.49,141.92L266.06,141.92L266.06,141.38L266.64,141.38L266.64,141.05L267.22,141.05L267.22,139.73L267.79,139.73L267.79,140.22L268.37,140.22L268.37,141.56L268.95,141.56L268.95,142.24L269.52,142.24L269.52,141.92L270.1,141.92L270.1,141.75L270.67,141.75L270.68,141.58L271.25,141.58L271.25,141.57L271.83,141.57L271.83,141.77L272.4,141.77L272.4,141.54L272.98,141.54L272.98,143.72L273.56,143.72L273.56,144.24L274.13,144.24L274.13,144.21L274.71,144.21L274.71,143.33L275.29,143.33L275.29,144.43L275.86,144.43L275.86,145.31L276.44,145.31L276.44,143.66L277.02,143.66L277.02,142.78L277.59,142.78L277.59,143.77L278.17,143.77L278.17,143.61L278.74,143.61L278.74,143.48L279.32,143.48L279.32,143.45L279.9,143.45L279.9,143.16L280.47,143.16L280.47,142.32L281.05,142.32L281.05,142.4L281.63,142.4L281.63,141.76L282.2,141.76L282.2,142L282.78,142L282.78,142.44L283.36,142.44L283.36,141.41L283.93,141.41L283.93,140.65L284.51,140.65L284.51,140.54L285.08,140.54L285.09,139.68L285.66,139.68L285.66,140.51L286.24,140.51L286.24,140.22L286.81,140.22L286.81,140.16L287.39,140.16L287.39,140.32L287.97,140.32L287.97,140.84L288.54,140.84L288.54,140.99L289.12,140.99L289.12,140.67L289.7,140.67L289.7,142.77L290.27,142.77L290.27,141.74L290.85,141.74L290.85,141.89L291.43,141.89L291.43,141.21L292,141.21L292,142.19L292.58,142.19L292.58,142.83L293.15,142.83L293.15,140.4L293.73,140.4L293.73,140.16L294.31,140.16L294.31,140.47L294.88,140.47L294.88,140.72L295.46,140.72L295.46,140.27L296.04,140.27L296.04,141.16L296.61,141.16L296.61,142.71L297.19,142.71L297.19,143.76L297.77,143.76L297.77,142.93L298.34,142.93L298.34,141.68L298.92,141.68L298.92,140.75L299.49,140.75L299.5,140.29L300.07,140.29L300.07,141.59L300.65,141.59L300.65,144.06L301.22,144.06L301.22,144.66L301.8,144.66L301.8,143.93L302.38,143.93L302.38,143.66L302.95,143.66L302.95,143.4L303.53,143.4L303.53,143.09L304.11,143.09L304.11,143.93L304.68,143.93L304.68,143.71L305.26,143.71L305.26,143.76L305.84,143.76L305.84,143.16L306.41,143.16L306.41,143.68L306.99,143.68L306.99,143.15L307.56,143.15L307.56,143.83L308.14,143.83L308.14,144.14L308.72,144.14L308.72,144.13L309.29,144.13L309.29,144.43L309.87,144.43L309.87,144.43L310.45,144.43L310.45,144.08L311.02,144.08L311.02,144.15L311.6,144.15L311.6,143.11L312.18,143.11L312.18,144.53L312.75,144.53L312.75,144.37L313.33,144.37L313.33,144.62L313.9,144.62L315,144.65L315.3,145.05L357.7,145.05L357.9,146.85L398.8,146.85L398.8,151.25 Z" fill="#813894"/>
<clipPath id="c1_3"><rect x="405.95" y="134.14" width="30" height="17.72"/></clipPath>
<g clip-path="url(#c1_3)"><text transform="translate(412.45,143.7) rotate(90) translate(0,0.42) scale(1,1.1)" text-anchor="middle" font-size="11.73" fill="#141414">G</text></g>
<g><line x1="254.6" x2="254.6" y1="159.19" y2="176.91" stroke="#e6e6e6" stroke-width="1.42"/><line x1="269.01" x2="269.01" y1="159.19" y2="176.91" stroke="#e6e6e6" stroke-width="0.71"/><line x1="283.42" x2="283.42" y1="159.19" y2="176.91" stroke="#e6e6e6" stroke-width="1.42"/><line x1="297.83" x2="297.83" y1="159.19" y2="176.91" stroke="#e6e6e6" stroke-width="0.71"/><line x1="312.24" x2="312.24" y1="159.19" y2="176.91" stroke="#e6e6e6" stroke-width="1.42"/><line x1="326.65" x2="326.65" y1="159.19" y2="176.91" stroke="#e6e6e6" stroke-width="0.71"/><line x1="341.06" x2="341.06" y1="159.19" y2="176.91" stroke="#e6e6e6" stroke-width="1.42"/><line x1="355.47" x2="355.47" y1="159.19" y2="176.91" stroke="#e6e6e6" stroke-width="0.71"/><line x1="369.88" x2="369.88" y1="159.19" y2="176.91" stroke="#e6e6e6" stroke-width="1.42"/><line x1="384.29" x2="384.29" y1="159.19" y2="176.91" stroke="#e6e6e6" stroke-width="0.71"/><line x1="398.7" x2="398.7" y1="159.19" y2="176.91" stroke="#e6e6e6" stroke-width="1.42"/></g>
<path d="M260.3,176.3L260.3,173.61L260.88,173.61L260.88,173.97L261.45,173.97L261.45,172.22L262.03,172.22L262.03,172.05L262.61,172.05L262.61,171.78L263.18,171.78L263.18,169.88L263.76,169.88L263.76,168.97L264.33,168.97L264.33,171.25L264.91,171.25L264.91,170.92L265.49,170.92L265.49,170.72L266.06,170.72L266.06,171.21L266.64,171.21L266.64,171.48L267.22,171.48L267.22,172.01L267.79,172.01L267.79,171.37L268.37,171.37L268.37,171.29L268.95,171.29L268.95,171.81L269.52,171.81L269.52,171.93L270.1,171.93L270.1,171.9L270.67,171.9L270.68,172.14L271.25,172.14L271.25,172.02L271.83,172.02L271.83,171.7L272.4,171.7L272.4,170.73L272.98,170.73L272.98,170.91L273.56,170.91L273.56,170.75L274.13,170.75L274.13,170.54L274.71,170.54L274.71,170.37L275.29,170.37L275.29,170.39L275.86,170.39L275.86,170.16L276.44,170.16L276.44,169.63L277.02,169.63L277.02,170.18L277.59,170.18L277.59,169.59L278.17,169.59L278.17,169.23L278.74,169.23L278.74,169.25L279.32,169.25L279.32,169.55L279.9,169.55L279.9,169.14L280.47,169.14L280.47,169.29L281.05,169.29L281.05,169.29L281.63,169.29L281.63,170.99L282.2,170.99L282.2,171.52L282.78,171.52L282.78,169.49L283.36,169.49L283.36,168.16L283.93,168.16L283.93,168.3L284.51,168.3L284.51,167.35L285.08,167.35L285.09,168.82L285.66,168.82L285.66,168L286.24,168L286.24,167.18L286.81,167.18L286.81,166.46L287.39,166.46L287.39,166.66L287.97,166.66L287.97,166.67L288.54,166.67L288.54,166.77L289.12,166.77L289.12,166.88L289.7,166.88L289.7,166.57L290.27,166.57L290.27,166.31L290.85,166.31L290.85,166.81L291.43,166.81L291.43,166.63L292,166.63L292,166.98L292.58,166.98L292.58,165.96L293.15,165.96L293.15,166.49L293.73,166.49L293.73,167.12L294.31,167.12L294.31,167.14L294.88,167.14L294.88,166.66L295.46,166.66L295.46,166.64L296.04,166.64L296.04,166.97L296.61,166.97L296.61,167.27L297.19,167.27L297.19,166.53L297.77,166.53L297.77,168.57L298.34,168.57L298.34,169.69L298.92,169.69L298.92,169.25L299.49,169.25L299.5,167.17L300.07,167.17L300.07,167.43L300.65,167.43L300.65,167.66L301.22,167.66L301.22,167.03L301.8,167.03L301.8,166.99L302.38,166.99L302.38,166.92L302.95,166.92L302.95,166.6L303.53,166.6L303.53,166.96L304.11,166.96L304.11,167.27L304.68,167.27L304.68,166.7L305.26,166.7L305.26,166.23L305.84,166.23L305.84,166.38L306.41,166.38L306.41,167.36L306.99,167.36L306.99,167.08L307.56,167.08L307.56,166.91L308.14,166.91L308.14,166.84L308.72,166.84L308.72,167.28L309.29,167.28L309.29,166.99L309.87,166.99L309.87,167.08L310.45,167.08L310.45,167.14L311.02,167.14L311.02,165.74L311.6,165.74L311.6,166.37L312.18,166.37L312.18,165.03L312.75,165.03L312.75,165.32L313.33,165.32L313.33,166.25L313.9,166.25L357.7,166.1L357.9,166L398.8,166L398.8,176.3 Z" fill="#f86800"/>
<clipPath id="c1_4"><rect x="405.95" y="159.19" width="30" height="17.72"/></clipPath>
<g clip-path="url(#c1_4)"><text transform="translate(412.45,168.75) rotate(90) translate(0,0.42) scale(1,1.1)" text-anchor="middle" font-size="11.73" fill="#141414">H</text></g>
<g><line x1="254.6" x2="254.6" y1="184.24" y2="201.95" stroke="#e6e6e6" stroke-width="1.42"/><line x1="269.01" x2="269.01" y1="184.24" y2="201.95" stroke="#e6e6e6" stroke-width="0.71"/><line x1="283.42" x2="283.42" y1="184.24" y2="201.95" stroke="#e6e6e6" stroke-width="1.42"/><line x1="297.83" x2="297.83" y1="184.24" y2="201.95" stroke="#e6e6e6" stroke-width="0.71"/><line x1="312.24" x2="312.24" y1="184.24" y2="201.95" stroke="#e6e6e6" stroke-width="1.42"/><line x1="326.65" x2="326.65" y1="184.24" y2="201.95" stroke="#e6e6e6" stroke-width="0.71"/><line x1="341.06" x2="341.06" y1="184.24" y2="201.95" stroke="#e6e6e6" stroke-width="1.42"/><line x1="355.47" x2="355.47" y1="184.24" y2="201.95" stroke="#e6e6e6" stroke-width="0.71"/><line x1="369.88" x2="369.88" y1="184.24" y2="201.95" stroke="#e6e6e6" stroke-width="1.42"/><line x1="384.29" x2="384.29" y1="184.24" y2="201.95" stroke="#e6e6e6" stroke-width="0.71"/><line x1="398.7" x2="398.7" y1="184.24" y2="201.95" stroke="#e6e6e6" stroke-width="1.42"/></g>
<path d="M260.3,201.35L260.3,200.41L260.88,200.41L260.88,200.14L261.45,200.14L261.45,199.89L262.03,199.89L262.03,199.67L262.61,199.67L262.61,199.37L263.18,199.37L263.18,197.87L263.76,197.87L263.76,196.62L264.33,196.62L264.33,197.97L264.91,197.97L264.91,198.3L265.49,198.3L265.49,198.16L266.06,198.16L266.06,198.46L266.64,198.46L266.64,198.08L267.22,198.08L267.22,196.54L267.79,196.54L267.79,197.7L268.37,197.7L268.37,198.74L268.95,198.74L268.95,198.66L269.52,198.66L269.52,198.99L270.1,198.99L270.1,198.79L270.67,198.79L270.68,198.96L271.25,198.96L271.25,198.48L271.83,198.48L271.83,198.39L272.4,198.39L272.4,198.55L272.98,198.55L272.98,198.35L273.56,198.35L273.56,198.62L274.13,198.62L274.13,198.38L274.71,198.38L274.71,198.79L275.29,198.79L275.29,196.53L275.86,196.53L275.86,196.54L276.44,196.54L276.44,196.77L277.02,196.77L277.02,197.6L277.59,197.6L277.59,197.32L278.17,197.32L278.17,197.32L278.74,197.32L278.74,196.87L279.32,196.87L279.32,195.72L279.9,195.72L279.9,193.45L280.47,193.45L280.47,197.6L281.05,197.6L281.05,196.89L281.63,196.89L281.63,197.3L282.2,197.3L282.2,197.46L282.78,197.46L282.78,197.66L283.36,197.66L283.36,197.98L283.93,197.98L283.93,196.65L284.51,196.65L284.51,196.69L285.08,196.69L285.09,196.42L285.66,196.42L285.66,196.28L286.24,196.28L286.24,195.52L286.81,195.52L286.81,194.67L287.39,194.67L287.39,195.04L287.97,195.04L287.97,194.21L288.54,194.21L288.54,194.72L289.12,194.72L289.12,194.16L289.7,194.16L289.7,193.99L290.27,193.99L290.27,194.38L290.85,194.38L290.85,194.5L291.43,194.5L291.43,194.21L292,194.21L292,193.62L292.58,193.62L292.58,194.6L293.15,194.6L293.15,193.73L293.73,193.73L293.73,192.85L294.31,192.85L294.31,193.94L294.88,193.94L294.88,193.52L295.46,193.52L295.46,193.64L296.04,193.64L296.04,193.66L296.61,193.66L296.61,193.51L297.19,193.51L297.19,193.37L297.77,193.37L297.77,194.67L298.34,194.67L298.34,194.45L298.92,194.45L298.92,193.39L299.49,193.39L299.5,193.4L300.07,193.4L300.07,193.15L300.65,193.15L300.65,192.84L301.22,192.84L301.22,192.88L301.8,192.88L301.8,193L302.38,193L302.38,193.03L302.95,193.03L302.95,191.6L303.53,191.6L303.53,192L304.11,192L304.11,191.9L304.68,191.9L304.68,190.98L305.26,190.98L305.26,192.11L305.84,192.11L305.84,191.85L306.41,191.85L306.41,191.66L306.99,191.66L306.99,192.65L307.56,192.65L307.56,192.21L308.14,192.21L308.14,192.22L308.72,192.22L308.72,192.5L309.29,192.5L309.29,193.02L309.87,193.02L309.87,192.74L310.45,192.74L310.45,192.63L311.02,192.63L311.02,192.53L311.6,192.53L311.6,192.95L312.18,192.95L312.18,191.21L312.75,191.21L312.75,189.19L313.33,189.19L313.33,190.12L313.9,190.12L357.7,189.55L357.9,188.85L398.8,188.85L398.8,201.35 Z" fill="#ffff06"/>
<clipPath id="c1_5"><rect x="405.95" y="184.24" width="30" height="17.72"/></clipPath>
<g clip-path="url(#c1_5)"><text transform="translate(412.45,193.79) rotate(90) translate(0,0.42) scale(1,1.1)" text-anchor="middle" font-size="11.73" fill="#141414">I</text></g>
<g><line x1="254.6" x2="254.6" y1="209.28" y2="227" stroke="#e6e6e6" stroke-width="1.42"/><line x1="269.01" x2="269.01" y1="209.28" y2="227" stroke="#e6e6e6" stroke-width="0.71"/><line x1="283.42" x2="283.42" y1="209.28" y2="227" stroke="#e6e6e6" stroke-width="1.42"/><line x1="297.83" x2="297.83" y1="209.28" y2="227" stroke="#e6e6e6" stroke-width="0.71"/><line x1="312.24" x2="312.24" y1="209.28" y2="227" stroke="#e6e6e6" stroke-width="1.42"/><line x1="326.65" x2="326.65" y1="209.28" y2="227" stroke="#e6e6e6" stroke-width="0.71"/><line x1="341.06" x2="341.06" y1="209.28" y2="227" stroke="#e6e6e6" stroke-width="1.42"/><line x1="355.47" x2="355.47" y1="209.28" y2="227" stroke="#e6e6e6" stroke-width="0.71"/><line x1="369.88" x2="369.88" y1="209.28" y2="227" stroke="#e6e6e6" stroke-width="1.42"/><line x1="384.29" x2="384.29" y1="209.28" y2="227" stroke="#e6e6e6" stroke-width="0.71"/><line x1="398.7" x2="398.7" y1="209.28" y2="227" stroke="#e6e6e6" stroke-width="1.42"/></g>
<path d="M260.3,226.39L260.3,225.91L260.88,225.91L260.88,225.91L261.45,225.91L261.45,225.91L262.03,225.91L262.03,225.91L262.61,225.91L262.61,225.44L263.18,225.44L263.18,224.37L263.76,224.37L263.76,224.3L264.33,224.3L264.33,224.54L264.91,224.54L264.91,224.77L265.49,224.77L265.49,224.78L266.06,224.78L266.06,224.64L266.64,224.64L266.64,223.47L267.22,223.47L267.22,224.51L267.79,224.51L267.79,223.99L268.37,223.99L268.37,222.91L268.95,222.91L268.95,224.72L269.52,224.72L269.52,224.7L270.1,224.7L270.1,224.95L270.67,224.95L270.68,225.02L271.25,225.02L271.25,224.8L271.83,224.8L271.83,224.94L272.4,224.94L272.4,224.89L272.98,224.89L272.98,224.76L273.56,224.76L273.56,224.73L274.13,224.73L274.13,224.51L274.71,224.51L274.71,224.52L275.29,224.52L275.29,222.85L275.86,222.85L275.86,222.81L276.44,222.81L276.44,223.4L277.02,223.4L277.02,223.34L277.59,223.34L277.59,223.27L278.17,223.27L278.17,223.3L278.74,223.3L278.74,222.32L279.32,222.32L279.32,220.91L279.9,220.91L279.9,220.69L280.47,220.69L280.47,223.98L281.05,223.98L281.05,223.72L281.63,223.72L281.63,223.94L282.2,223.94L282.2,221.49L282.78,221.49L282.78,221.43L283.36,221.43L283.36,223.85L283.93,223.85L283.93,223.83L284.51,223.83L284.51,223.81L285.08,223.81L285.09,223.89L285.66,223.89L285.66,223.76L286.24,223.76L286.24,223.14L286.81,223.14L286.81,222.88L287.39,222.88L287.39,222.69L287.97,222.69L287.97,221.25L288.54,221.25L288.54,221.04L289.12,221.04L289.12,220.9L289.7,220.9L289.7,220.72L290.27,220.72L290.27,221.06L290.85,221.06L290.85,219.51L291.43,219.51L291.43,220.02L292,220.02L292,220.41L292.58,220.41L292.58,220.25L293.15,220.25L293.15,220.32L293.73,220.32L293.73,220.17L294.31,220.17L294.31,220.35L294.88,220.35L294.88,220.64L295.46,220.64L295.46,220.53L296.04,220.53L296.04,220.32L296.61,220.32L296.61,219.95L297.19,219.95L297.19,220.83L297.77,220.83L297.77,221.93L298.34,221.93L298.34,221.82L298.92,221.82L298.92,220.6L299.49,220.6L299.5,220.52L300.07,220.52L300.07,220.19L300.65,220.19L300.65,220.29L301.22,220.29L301.22,220.56L301.8,220.56L301.8,221.59L302.38,221.59L302.38,221.34L302.95,221.34L302.95,221.62L303.53,221.62L303.53,221.21L304.11,221.21L304.11,221.46L304.68,221.46L304.68,221.08L305.26,221.08L305.26,221.67L305.84,221.67L305.84,221.15L306.41,221.15L306.41,221.17L306.99,221.17L306.99,220.44L307.56,220.44L307.56,219.78L308.14,219.78L308.14,220.37L308.72,220.37L308.72,220.38L309.29,220.38L309.29,220.32L309.87,220.32L309.87,220.55L310.45,220.55L310.45,220.13L311.02,220.13L311.02,220.48L311.6,220.48L311.6,220.08L312.18,220.08L312.18,219.51L312.75,219.51L312.75,219.93L313.33,219.93L313.33,220.22L313.9,220.22L315.3,220.29L315.6,219.09L357.7,219.09L357.9,213.89L398.8,213.89L398.8,226.39 Z" fill="#91421c"/>
<clipPath id="c1_6"><rect x="405.95" y="209.28" width="30" height="17.72"/></clipPath>
<g clip-path="url(#c1_6)"><text transform="translate(412.45,218.84) rotate(90) translate(0,0.42) scale(1,1.1)" text-anchor="middle" font-size="11.73" fill="#141414">J</text></g>
<text transform="rotate(0.1 482.25 48.7)" x="482.25" y="48.7" font-size="14.67" fill="#000000">clarity</text>
<g><line x1="483.4" x2="483.4" y1="59" y2="73.59" stroke="#e6e6e6" stroke-width="1.42"/><line x1="497.81" x2="497.81" y1="59" y2="73.59" stroke="#e6e6e6" stroke-width="0.71"/><line x1="512.22" x2="512.22" y1="59" y2="73.59" stroke="#e6e6e6" stroke-width="1.42"/><line x1="526.63" x2="526.63" y1="59" y2="73.59" stroke="#e6e6e6" stroke-width="0.71"/><line x1="541.04" x2="541.04" y1="59" y2="73.59" stroke="#e6e6e6" stroke-width="1.42"/><line x1="555.45" x2="555.45" y1="59" y2="73.59" stroke="#e6e6e6" stroke-width="0.71"/><line x1="569.86" x2="569.86" y1="59" y2="73.59" stroke="#e6e6e6" stroke-width="1.42"/><line x1="584.27" x2="584.27" y1="59" y2="73.59" stroke="#e6e6e6" stroke-width="0.71"/><line x1="598.68" x2="598.68" y1="59" y2="73.59" stroke="#e6e6e6" stroke-width="1.42"/><line x1="613.09" x2="613.09" y1="59" y2="73.59" stroke="#e6e6e6" stroke-width="0.71"/><line x1="627.5" x2="627.5" y1="59" y2="73.59" stroke="#e6e6e6" stroke-width="1.42"/></g>
<path d="M492,72.97L492,72.73L492.58,72.73L492.58,72.72L493.15,72.72L493.15,72.7L493.73,72.7L493.73,72.68L494.31,72.68L494.31,72.67L494.88,72.67L494.88,72.66L495.46,72.66L495.46,72.64L496.03,72.64L496.03,72.63L496.61,72.63L496.61,72.62L497.19,72.62L497.19,72.22L497.76,72.22L497.76,72.54L498.34,72.54L498.34,72.59L498.92,72.59L498.92,72.58L499.49,72.58L499.49,72.57L500.07,72.57L500.07,72.55L500.65,72.55L500.65,72.54L501.22,72.54L501.22,72.53L501.8,72.53L501.8,72.52L502.37,72.52L502.38,72.5L502.95,72.5L502.95,72.49L503.53,72.49L503.53,72.48L504.1,72.48L504.1,72.47L504.68,72.47L504.68,72.46L505.26,72.46L505.26,72.45L505.83,72.45L505.83,72.44L506.41,72.44L506.41,72.43L506.99,72.43L506.99,72.42L507.56,72.42L507.56,72.42L508.14,72.42L508.14,72.4L508.72,72.4L508.72,72.39L509.29,72.39L509.29,72.38L509.87,72.38L509.87,72.3L510.44,72.3L510.44,71.92L511.02,71.92L511.02,71.49L511.6,71.49L511.6,70.6L512.17,70.6L512.17,71.59L512.75,71.59L512.75,72.16L513.33,72.16L513.33,72.37L513.9,72.37L513.9,72.37L514.48,72.37L514.48,72.37L515.06,72.37L515.06,72.37L515.63,72.37L515.63,72.37L516.21,72.37L516.21,72.37L516.78,72.37L516.79,72.03L517.36,72.03L517.36,72.21L517.94,72.21L517.94,72.36L518.51,72.36L518.51,72.35L519.09,72.35L519.09,72.34L519.67,72.34L519.67,72.33L520.24,72.33L520.24,72.33L520.82,72.33L520.82,72.31L521.4,72.31L521.4,72.3L521.97,72.3L521.97,72.29L522.55,72.29L522.55,72.28L523.13,72.28L523.13,72.28L523.7,72.28L523.7,72.26L524.28,72.26L524.28,72.11L524.85,72.11L524.85,71.49L525.43,71.49L525.43,70.87L526.01,70.87L526.01,70.61L526.58,70.61L526.58,72.37L527.16,72.37L527.16,72.43L527.74,72.43L527.74,72.64L528.31,72.64L528.31,72.73L528.89,72.73L528.89,72.73L529.47,72.73L529.47,72.73L530.04,72.73L530.04,72.73L530.62,72.73L530.62,72.73L531.19,72.73L531.2,72.19L531.77,72.19L531.77,71.89L532.35,71.89L532.35,71.89L532.92,71.89L532.92,71.88L533.5,71.88L533.5,71.93L534.08,71.93L534.08,71.76L534.65,71.76L534.65,71.82L535.23,71.82L535.23,71.69L535.81,71.69L535.81,71.98L536.38,71.98L536.38,71.73L536.96,71.73L536.96,71.95L537.54,71.95L537.54,71.87L538.11,71.87L538.11,72.1L538.69,72.1L538.69,71.85L539.26,71.85L539.26,72.11L539.84,72.11L539.84,71.91L540.42,71.91L540.42,71.88L540.99,71.88L540.99,71.89L541.57,71.89L541.57,71.84L542.15,71.84L542.15,71.83L542.72,71.83L586.9,72.13L587.1,70.37L627.8,70.37L627.8,72.97 Z" fill="#5db793"/>
<clipPath id="c2_0"><rect x="634.75" y="59" width="30" height="14.59"/></clipPath>
<g clip-path="url(#c2_0)"><text transform="translate(641.25,66.99) rotate(90) translate(0,0.42) scale(1,1.1)" text-anchor="middle" font-size="11.73" fill="#141414">I1</text></g>
<g><line x1="483.4" x2="483.4" y1="80.92" y2="95.5" stroke="#e6e6e6" stroke-width="1.42"/><line x1="497.81" x2="497.81" y1="80.92" y2="95.5" stroke="#e6e6e6" stroke-width="0.71"/><line x1="512.22" x2="512.22" y1="80.92" y2="95.5" stroke="#e6e6e6" stroke-width="1.42"/><line x1="526.63" x2="526.63" y1="80.92" y2="95.5" stroke="#e6e6e6" stroke-width="0.71"/><line x1="541.04" x2="541.04" y1="80.92" y2="95.5" stroke="#e6e6e6" stroke-width="1.42"/><line x1="555.45" x2="555.45" y1="80.92" y2="95.5" stroke="#e6e6e6" stroke-width="0.71"/><line x1="569.86" x2="569.86" y1="80.92" y2="95.5" stroke="#e6e6e6" stroke-width="1.42"/><line x1="584.27" x2="584.27" y1="80.92" y2="95.5" stroke="#e6e6e6" stroke-width="0.71"/><line x1="598.68" x2="598.68" y1="80.92" y2="95.5" stroke="#e6e6e6" stroke-width="1.42"/><line x1="613.09" x2="613.09" y1="80.92" y2="95.5" stroke="#e6e6e6" stroke-width="0.71"/><line x1="627.5" x2="627.5" y1="80.92" y2="95.5" stroke="#e6e6e6" stroke-width="1.42"/></g>
<path d="M489.5,94.89L489.5,94.53L490.08,94.53L490.08,94.53L490.65,94.53L490.65,94.53L491.23,94.53L491.23,94.53L491.81,94.53L491.81,94.26L492.38,94.26L492.38,93.37L492.96,93.37L492.96,92.91L493.53,92.91L493.53,92.49L494.11,92.49L494.11,91.95L494.69,91.95L494.69,92.82L495.26,92.82L495.26,93.02L495.84,93.02L495.84,92.92L496.42,92.92L496.42,92.5L496.99,92.5L496.99,91.35L497.57,91.35L497.57,91.09L498.15,91.09L498.15,92.81L498.72,92.81L498.72,92.84L499.3,92.84L499.3,92.96L499.87,92.96L499.88,92.31L500.45,92.31L500.45,92.2L501.03,92.2L501.03,92.34L501.6,92.34L501.6,92.73L502.18,92.73L502.18,92.85L502.76,92.85L502.76,92.88L503.33,92.88L503.33,92.18L503.91,92.18L503.91,90.94L504.49,90.94L504.49,90.33L505.06,90.33L505.06,90.48L505.64,90.48L505.64,90.86L506.22,90.86L506.22,88.43L506.79,88.43L506.79,88.1L507.37,88.1L507.37,87.75L507.94,87.75L507.94,84.87L508.52,84.87L508.52,85.68L509.1,85.68L509.1,84.87L509.67,84.87L509.67,86.66L510.25,86.66L510.25,89.21L510.83,89.21L510.83,87.72L511.4,87.72L511.4,85.23L511.98,85.23L511.98,90.95L512.56,90.95L512.56,88.45L513.13,88.45L513.13,89.21L513.71,89.21L513.71,88.84L514.28,88.84L514.29,88.54L514.86,88.54L514.86,88.46L515.44,88.46L515.44,89.12L516.01,89.12L516.01,88.43L516.59,88.43L516.59,89.43L517.17,89.43L517.17,88.7L517.74,88.7L517.74,88.77L518.32,88.77L518.32,89.06L518.9,89.06L518.9,88.68L519.47,88.68L519.47,89.58L520.05,89.58L520.05,89.32L520.63,89.32L520.63,89.1L521.2,89.1L521.2,89.32L521.78,89.32L521.78,89.24L522.35,89.24L522.35,89.18L522.93,89.18L522.93,89.36L523.51,89.36L523.51,88.94L524.08,88.94L524.08,88.71L524.66,88.71L524.66,89.04L525.24,89.04L525.24,88.27L525.81,88.27L525.81,86.85L526.39,86.85L526.39,86.69L526.97,86.69L526.97,89.41L527.54,89.41L527.54,91.69L528.12,91.69L528.12,91.09L528.69,91.09L528.7,90.13L529.27,90.13L529.27,90.89L529.85,90.89L529.85,90.52L530.42,90.52L530.42,90.42L531,90.42L531,90.51L531.58,90.51L531.58,90.53L532.15,90.53L532.15,90.77L532.73,90.77L532.73,90.31L533.31,90.31L533.31,90.49L533.88,90.49L533.88,90.77L534.46,90.77L534.46,90.48L535.04,90.48L535.04,90.33L535.61,90.33L535.61,90.66L536.19,90.66L536.19,90.43L536.76,90.43L536.76,89.68L537.34,89.68L537.34,88.74L537.92,88.74L537.92,89.67L538.49,89.67L538.49,89.1L539.07,89.1L539.07,88.93L539.65,88.93L539.65,89.19L540.22,89.19L540.22,89.22L540.8,89.22L540.8,89.15L541.38,89.15L541.38,86.81L541.95,86.81L541.95,84.44L542.53,84.44L544.1,84.49L544.4,83.09L586.9,83.09L587.1,81.99L627.8,81.99L627.8,94.89 Z" fill="#f5774d"/>
<clipPath id="c2_1"><rect x="634.75" y="80.92" width="30" height="14.59"/></clipPath>
<g clip-path="url(#c2_1)"><text transform="translate(641.25,88.91) rotate(90) translate(0,0.42) scale(1,1.1)" text-anchor="middle" font-size="11.73" fill="#141414">SI2</text></g>
<g><line x1="483.4" x2="483.4" y1="102.83" y2="117.42" stroke="#e6e6e6" stroke-width="1.42"/><line x1="497.81" x2="497.81" y1="102.83" y2="117.42" stroke="#e6e6e6" stroke-width="0.71"/><line x1="512.22" x2="512.22" y1="102.83" y2="117.42" stroke="#e6e6e6" stroke-width="1.42"/><line x1="526.63" x2="526.63" y1="102.83" y2="117.42" stroke="#e6e6e6" stroke-width="0.71"/><line x1="541.04" x2="541.04" y1="102.83" y2="117.42" stroke="#e6e6e6" stroke-width="1.42"/><line x1="555.45" x2="555.45" y1="102.83" y2="117.42" stroke="#e6e6e6" stroke-width="0.71"/><line x1="569.86" x2="569.86" y1="102.83" y2="117.42" stroke="#e6e6e6" stroke-width="1.42"/><line x1="584.27" x2="584.27" y1="102.83" y2="117.42" stroke="#e6e6e6" stroke-width="0.71"/><line x1="598.68" x2="598.68" y1="102.83" y2="117.42" stroke="#e6e6e6" stroke-width="1.42"/><line x1="613.09" x2="613.09" y1="102.83" y2="117.42" stroke="#e6e6e6" stroke-width="0.71"/><line x1="627.5" x2="627.5" y1="102.83" y2="117.42" stroke="#e6e6e6" stroke-width="1.42"/></g>
<path d="M489.5,116.81L489.5,116.09L490.08,116.09L490.08,116.09L490.65,116.09L490.65,116.09L491.23,116.09L491.23,115.94L491.81,115.94L491.81,113.9L492.38,113.9L492.38,107.59L492.96,107.59L492.96,112.77L493.53,112.77L493.53,112.81L494.11,112.81L494.11,112.79L494.69,112.79L494.69,112.49L495.26,112.49L495.26,112.43L495.84,112.43L495.84,112.92L496.42,112.92L496.42,112.1L496.99,112.1L496.99,106.47L497.57,106.47L497.57,107.61L498.15,107.61L498.15,111.29L498.72,111.29L498.72,112.03L499.3,112.03L499.3,111.96L499.87,111.96L499.88,112.06L500.45,112.06L500.45,111.69L501.03,111.69L501.03,111.67L501.6,111.67L501.6,111.47L502.18,111.47L502.18,112.04L502.76,112.04L502.76,111.46L503.33,111.46L503.33,111.01L503.91,111.01L503.91,110.56L504.49,110.56L504.49,110.09L505.06,110.09L505.06,109.63L505.64,109.63L505.64,109.75L506.22,109.75L506.22,108.68L506.79,108.68L506.79,108.84L507.37,108.84L507.37,109.35L507.94,109.35L507.94,109.01L508.52,109.01L508.52,110.05L509.1,110.05L509.1,109.59L509.67,109.59L509.67,109.02L510.25,109.02L510.25,107.62L510.83,107.62L510.83,107.33L511.4,107.33L511.4,112.5L511.98,112.5L511.98,110.69L512.56,110.69L512.56,110.45L513.13,110.45L513.13,110.44L513.71,110.44L513.71,110.55L514.28,110.55L514.29,110.31L514.86,110.31L514.86,110.07L515.44,110.07L515.44,110.63L516.01,110.63L516.01,110.74L516.59,110.74L516.59,111.07L517.17,111.07L517.17,111.34L517.74,111.34L517.74,110.71L518.32,110.71L518.32,111.16L518.9,111.16L518.9,111.47L519.47,111.47L519.47,111.58L520.05,111.58L520.05,111.54L520.63,111.54L520.63,111.7L521.2,111.7L521.2,111.72L521.78,111.72L521.78,113.29L522.35,113.29L522.35,113.04L522.93,113.04L522.93,113.08L523.51,113.08L523.51,112.9L524.08,112.9L524.08,113.2L524.66,113.2L524.66,113.08L525.24,113.08L525.24,113.18L525.81,113.18L525.81,110.99L526.39,110.99L526.39,111.65L526.97,111.65L526.97,111.63L527.54,111.63L527.54,110.99L528.12,110.99L528.12,110.25L528.69,110.25L528.7,110.56L529.27,110.56L529.27,109.38L529.85,109.38L529.85,109.39L530.42,109.39L530.42,110.69L531,110.69L531,110.81L531.58,110.81L531.58,110.58L532.15,110.58L532.15,111.44L532.73,111.44L532.73,111.59L533.31,111.59L533.31,111.25L533.88,111.25L533.88,110.69L534.46,110.69L534.46,110.96L535.04,110.96L535.04,111.16L535.61,111.16L535.61,110.95L536.19,110.95L536.19,110.75L536.76,110.75L536.76,111.04L537.34,111.04L537.34,111.03L537.92,111.03L537.92,110.83L538.49,110.83L538.49,111.08L539.07,111.08L539.07,111.31L539.65,111.31L539.65,111.38L540.22,111.38L540.22,110.42L540.8,110.42L540.8,110.15L541.38,110.15L541.38,109.75L541.95,109.75L541.95,109.84L542.53,109.84L544.1,110.11L544.4,111.61L586.9,111.61L587.1,112.91L627.8,112.91L627.8,116.81 Z" fill="#7b8ec1"/>
<clipPath id="c2_2"><rect x="634.75" y="102.83" width="30" height="14.59"/></clipPath>
<g clip-path="url(#c2_2)"><text transform="translate(641.25,110.83) rotate(90) translate(0,0.42) scale(1,1.1)" text-anchor="middle" font-size="11.73" fill="#141414">SI1</text></g>
<g><line x1="483.4" x2="483.4" y1="124.75" y2="139.34" stroke="#e6e6e6" stroke-width="1.42"/><line x1="497.81" x2="497.81" y1="124.75" y2="139.34" stroke="#e6e6e6" stroke-width="0.71"/><line x1="512.22" x2="512.22" y1="124.75" y2="139.34" stroke="#e6e6e6" stroke-width="1.42"/><line x1="526.63" x2="526.63" y1="124.75" y2="139.34" stroke="#e6e6e6" stroke-width="0.71"/><line x1="541.04" x2="541.04" y1="124.75" y2="139.34" stroke="#e6e6e6" stroke-width="1.42"/><line x1="555.45" x2="555.45" y1="124.75" y2="139.34" stroke="#e6e6e6" stroke-width="0.71"/><line x1="569.86" x2="569.86" y1="124.75" y2="139.34" stroke="#e6e6e6" stroke-width="1.42"/><line x1="584.27" x2="584.27" y1="124.75" y2="139.34" stroke="#e6e6e6" stroke-width="0.71"/><line x1="598.68" x2="598.68" y1="124.75" y2="139.34" stroke="#e6e6e6" stroke-width="1.42"/><line x1="613.09" x2="613.09" y1="124.75" y2="139.34" stroke="#e6e6e6" stroke-width="0.71"/><line x1="627.5" x2="627.5" y1="124.75" y2="139.34" stroke="#e6e6e6" stroke-width="1.42"/></g>
<path d="M489.5,138.72L489.5,134.45L490.08,134.45L490.08,134.59L490.65,134.59L490.65,134.95L491.23,134.95L491.23,135.82L491.81,135.82L491.81,135.98L492.38,135.98L492.38,135.2L492.96,135.2L492.96,131.7L493.53,131.7L493.53,132.35L494.11,132.35L494.11,132.02L494.69,132.02L494.69,134.7L495.26,134.7L495.26,135.77L495.84,135.77L495.84,134.03L496.42,134.03L496.42,134.02L496.99,134.02L496.99,134.2L497.57,134.2L497.57,130.52L498.15,130.52L498.15,130.29L498.72,130.29L498.72,130.12L499.3,130.12L499.3,132.31L499.87,132.31L499.88,132.68L500.45,132.68L500.45,132.38L501.03,132.38L501.03,132.52L501.6,132.52L501.6,132.79L502.18,132.79L502.18,132.13L502.76,132.13L502.76,133.66L503.33,133.66L503.33,133.83L503.91,133.83L503.91,133.65L504.49,133.65L504.49,133.31L505.06,133.31L505.06,133.77L505.64,133.77L505.64,134.08L506.22,134.08L506.22,133.57L506.79,133.57L506.79,135.09L507.37,135.09L507.37,134.67L507.94,134.67L507.94,134.42L508.52,134.42L508.52,134.59L509.1,134.59L509.1,130.46L509.67,130.46L509.67,133.67L510.25,133.67L510.25,135.69L510.83,135.69L510.83,135.45L511.4,135.45L511.4,135.66L511.98,135.66L511.98,129.14L512.56,129.14L512.56,134.97L513.13,134.97L513.13,134.67L513.71,134.67L513.71,134.65L514.28,134.65L514.29,133.75L514.86,133.75L514.86,133.41L515.44,133.41L515.44,133.59L516.01,133.59L516.01,133.65L516.59,133.65L516.59,133.75L517.17,133.75L517.17,133.84L517.74,133.84L517.74,133.6L518.32,133.6L518.32,133.77L518.9,133.77L518.9,134.14L519.47,134.14L519.47,133.66L520.05,133.66L520.05,133.72L520.63,133.72L520.63,133.91L521.2,133.91L521.2,133.31L521.78,133.31L521.78,133.73L522.35,133.73L522.35,133.77L522.93,133.77L522.93,133.28L523.51,133.28L523.51,133.97L524.08,133.97L524.08,132.9L524.66,132.9L524.66,133.79L525.24,133.79L525.24,133.1L525.81,133.1L525.81,135.33L526.39,135.33L526.39,134.32L526.97,134.32L526.97,133.48L527.54,133.48L527.54,133.28L528.12,133.28L528.12,133.17L528.69,133.17L528.7,132.87L529.27,132.87L529.27,133.28L529.85,133.28L529.85,131.3L530.42,131.3L530.42,131.84L531,131.84L531,130.93L531.58,130.93L531.58,131.52L532.15,131.52L532.15,131.66L532.73,131.66L532.73,131.62L533.31,131.62L533.31,131.36L533.88,131.36L533.88,132.2L534.46,132.2L534.46,131.33L535.04,131.33L535.04,131.91L535.61,131.91L535.61,131.5L536.19,131.5L536.19,132.5L536.76,132.5L536.76,133.74L537.34,133.74L537.34,133.42L537.92,133.42L537.92,133.52L538.49,133.52L538.49,133.4L539.07,133.4L539.07,132.85L539.65,132.85L539.65,132.7L540.22,132.7L540.22,132.68L540.8,132.68L540.8,134.53L541.38,134.53L541.38,134.62L541.95,134.62L541.95,134.53L542.53,134.53L544.1,134.52L544.4,135.62L586.9,135.62L587.1,136.62L627.8,136.62L627.8,138.72 Z" fill="#db72b8"/>
<clipPath id="c2_3"><rect x="634.75" y="124.75" width="30" height="14.59"/></clipPath>
<g clip-path="url(#c2_3)"><text transform="translate(641.25,132.74) rotate(90) translate(0,0.42) scale(1,1.1)" text-anchor="middle" font-size="11.73" fill="#141414">VS2</text></g>
<g><line x1="483.4" x2="483.4" y1="146.66" y2="161.25" stroke="#e6e6e6" stroke-width="1.42"/><line x1="497.81" x2="497.81" y1="146.66" y2="161.25" stroke="#e6e6e6" stroke-width="0.71"/><line x1="512.22" x2="512.22" y1="146.66" y2="161.25" stroke="#e6e6e6" stroke-width="1.42"/><line x1="526.63" x2="526.63" y1="146.66" y2="161.25" stroke="#e6e6e6" stroke-width="0.71"/><line x1="541.04" x2="541.04" y1="146.66" y2="161.25" stroke="#e6e6e6" stroke-width="1.42"/><line x1="555.45" x2="555.45" y1="146.66" y2="161.25" stroke="#e6e6e6" stroke-width="0.71"/><line x1="569.86" x2="569.86" y1="146.66" y2="161.25" stroke="#e6e6e6" stroke-width="1.42"/><line x1="584.27" x2="584.27" y1="146.66" y2="161.25" stroke="#e6e6e6" stroke-width="0.71"/><line x1="598.68" x2="598.68" y1="146.66" y2="161.25" stroke="#e6e6e6" stroke-width="1.42"/><line x1="613.09" x2="613.09" y1="146.66" y2="161.25" stroke="#e6e6e6" stroke-width="0.71"/><line x1="627.5" x2="627.5" y1="146.66" y2="161.25" stroke="#e6e6e6" stroke-width="1.42"/></g>
<path d="M489.5,160.64L489.5,157.51L490.08,157.51L490.08,157.39L490.65,157.39L490.65,157.53L491.23,157.53L491.23,157.04L491.81,157.04L491.81,156.17L492.38,156.17L492.38,155.32L492.96,155.32L492.96,156.74L493.53,156.74L493.53,156.54L494.11,156.54L494.11,156.07L494.69,156.07L494.69,156.96L495.26,156.96L495.26,156.64L495.84,156.64L495.84,156.8L496.42,156.8L496.42,156.5L496.99,156.5L496.99,156.98L497.57,156.98L497.57,155.81L498.15,155.81L498.15,156.47L498.72,156.47L498.72,156.58L499.3,156.58L499.3,156.46L499.87,156.46L499.88,156.63L500.45,156.63L500.45,156.5L501.03,156.5L501.03,156.71L501.6,156.71L501.6,156.43L502.18,156.43L502.18,156.48L502.76,156.48L502.76,155.62L503.33,155.62L503.33,155.97L503.91,155.97L503.91,156.16L504.49,156.16L504.49,157.29L505.06,157.29L505.06,157.1L505.64,157.1L505.64,156.84L506.22,156.84L506.22,157.39L506.79,157.39L506.79,157.83L507.37,157.83L507.37,157.86L507.94,157.86L507.94,158.69L508.52,158.69L508.52,158.25L509.1,158.25L509.1,158.6L509.67,158.6L509.67,158.47L510.25,158.47L510.25,158.34L510.83,158.34L510.83,158.47L511.4,158.47L511.4,159.68L511.98,159.68L511.98,157.01L512.56,157.01L512.56,156.67L513.13,156.67L513.13,157.78L513.71,157.78L513.71,158.2L514.28,158.2L514.29,157.88L514.86,157.88L514.86,158.02L515.44,158.02L515.44,158.04L516.01,158.04L516.01,158.12L516.59,158.12L516.59,157.55L517.17,157.55L517.17,157.94L517.74,157.94L517.74,157.44L518.32,157.44L518.32,156.9L518.9,156.9L518.9,157.28L519.47,157.28L519.47,156.97L520.05,156.97L520.05,157.22L520.63,157.22L520.63,157.48L521.2,157.48L521.2,157.11L521.78,157.11L521.78,156.4L522.35,156.4L522.35,155.69L522.93,155.69L522.93,156L523.51,156L523.51,156.56L524.08,156.56L524.08,156.31L524.66,156.31L524.66,156.94L525.24,156.94L525.24,159.15L525.81,159.15L525.81,158.97L526.39,158.97L526.39,158.57L526.97,158.57L526.97,156.56L527.54,156.56L527.54,155.83L528.12,155.83L528.12,156.41L528.69,156.41L528.7,157.31L529.27,157.31L529.27,156.84L529.85,156.84L529.85,157.08L530.42,157.08L530.42,156.57L531,156.57L531,157.38L531.58,157.38L531.58,157.06L532.15,157.06L532.15,157.26L532.73,157.26L532.73,157.24L533.31,157.24L533.31,157.08L533.88,157.08L533.88,156.92L534.46,156.92L534.46,157.38L535.04,157.38L535.04,156.95L535.61,156.95L535.61,156.85L536.19,156.85L536.19,157.03L536.76,157.03L536.76,157.17L537.34,157.17L537.34,157.04L537.92,157.04L537.92,157.31L538.49,157.31L538.49,156.94L539.07,156.94L539.07,156.86L539.65,156.86L539.65,156.95L540.22,156.95L540.22,157.1L540.8,157.1L540.8,159.66L541.38,159.66L541.38,159.39L541.95,159.39L541.95,159.5L542.53,159.5L544.1,159.44L544.4,159.8L627.8,159.8L627.8,160.64 Z" fill="#9bd23a"/>
<clipPath id="c2_4"><rect x="634.75" y="146.66" width="30" height="14.59"/></clipPath>
<g clip-path="url(#c2_4)"><text transform="translate(641.25,154.66) rotate(90) translate(0,0.42) scale(1,1.1)" text-anchor="middle" font-size="11.73" fill="#141414">VS1</text></g>
<g><line x1="483.4" x2="483.4" y1="168.58" y2="183.17" stroke="#e6e6e6" stroke-width="1.42"/><line x1="497.81" x2="497.81" y1="168.58" y2="183.17" stroke="#e6e6e6" stroke-width="0.71"/><line x1="512.22" x2="512.22" y1="168.58" y2="183.17" stroke="#e6e6e6" stroke-width="1.42"/><line x1="526.63" x2="526.63" y1="168.58" y2="183.17" stroke="#e6e6e6" stroke-width="0.71"/><line x1="541.04" x2="541.04" y1="168.58" y2="183.17" stroke="#e6e6e6" stroke-width="1.42"/><line x1="555.45" x2="555.45" y1="168.58" y2="183.17" stroke="#e6e6e6" stroke-width="0.71"/><line x1="569.86" x2="569.86" y1="168.58" y2="183.17" stroke="#e6e6e6" stroke-width="1.42"/><line x1="584.27" x2="584.27" y1="168.58" y2="183.17" stroke="#e6e6e6" stroke-width="0.71"/><line x1="598.68" x2="598.68" y1="168.58" y2="183.17" stroke="#e6e6e6" stroke-width="1.42"/><line x1="613.09" x2="613.09" y1="168.58" y2="183.17" stroke="#e6e6e6" stroke-width="0.71"/><line x1="627.5" x2="627.5" y1="168.58" y2="183.17" stroke="#e6e6e6" stroke-width="1.42"/></g>
<path d="M489.5,182.55L489.5,174.49L490.08,174.49L490.08,173.58L490.65,173.58L490.65,175.58L491.23,175.58L491.23,175.25L491.81,175.25L491.81,178.78L492.38,178.78L492.38,178.99L492.96,178.99L492.96,179.64L493.53,179.64L493.53,179.89L494.11,179.89L494.11,179.62L494.69,179.62L494.69,179.69L495.26,179.69L495.26,179.47L495.84,179.47L495.84,178.72L496.42,178.72L496.42,179.61L496.99,179.61L496.99,178.31L497.57,178.31L497.57,178.23L498.15,178.23L498.15,180.19L498.72,180.19L498.72,180.14L499.3,180.14L499.3,180.16L499.87,180.16L499.88,180.22L500.45,180.22L500.45,179.93L501.03,179.93L501.03,180.06L501.6,180.06L501.6,178.66L502.18,178.66L502.18,178.62L502.76,178.62L502.76,180.02L503.33,180.02L503.33,180.07L503.91,180.07L503.91,180.27L504.49,180.27L504.49,180.25L505.06,180.25L505.06,180.45L505.64,180.45L505.64,181.39L506.22,181.39L506.22,181.59L506.79,181.59L506.79,181.59L507.37,181.59L507.37,181.07L507.94,181.07L507.94,181.62L508.52,181.62L508.52,181.59L509.1,181.59L509.1,181.59L509.67,181.59L509.67,181.59L510.25,181.59L510.25,181.59L510.83,181.59L510.83,181.59L511.4,181.59L511.4,177.91L511.98,177.91L511.98,179.61L512.56,179.61L512.56,181.03L513.13,181.03L513.13,180.78L513.71,180.78L513.71,181.06L514.28,181.06L514.29,181.07L514.86,181.07L514.86,181L515.44,181L515.44,180.97L516.01,180.97L516.01,181.08L516.59,181.08L516.59,181.08L517.17,181.08L517.17,180.96L517.74,180.96L517.74,180.98L518.32,180.98L518.32,180.76L518.9,180.76L518.9,180.63L519.47,180.63L519.47,180.79L520.05,180.79L520.05,180.98L520.63,180.98L520.63,180.64L521.2,180.64L521.2,180.82L521.78,180.82L521.78,180.76L522.35,180.76L522.35,180.81L522.93,180.81L522.93,180.67L523.51,180.67L523.51,180.74L524.08,180.74L524.08,180.96L524.66,180.96L524.66,180.61L525.24,180.61L525.24,180.83L525.81,180.83L525.81,180.92L526.39,180.92L526.39,181.16L526.97,181.16L526.97,180.98L527.54,180.98L527.54,181.13L528.12,181.13L528.12,181.16L528.69,181.16L528.7,180.93L529.27,180.93L529.27,181.05L529.85,181.05L529.85,180.93L530.42,180.93L530.42,180.99L531,180.99L531,180.84L531.58,180.84L531.58,181.45L532.15,181.45L532.15,181.3L532.73,181.3L532.73,181.55L533.31,181.55L533.31,181.2L533.88,181.2L533.88,181.32L534.46,181.32L534.46,181.31L535.04,181.31L535.04,181.34L535.61,181.34L535.61,181.29L536.19,181.29L536.19,181.14L536.76,181.14L536.76,181.38L537.34,181.38L537.34,181.35L537.92,181.35L537.92,181.36L538.49,181.36L538.49,181.46L539.07,181.46L539.07,181.55L539.65,181.55L539.65,181.33L540.22,181.33L540.22,181.27L540.8,181.27L540.8,182.41L541.38,182.41L541.38,182.41L541.95,182.41L541.95,182.41L542.53,182.41L586.9,182.41L587.1,182.55L627.8,182.55L627.8,182.55 Z" fill="#fdd10f"/>
<clipPath id="c2_5"><rect x="634.75" y="168.58" width="30" height="14.59"/></clipPath>
<g clip-path="url(#c2_5)"><text transform="translate(641.25,176.57) rotate(90) translate(0,0.42) scale(1,1.1)" text-anchor="middle" font-size="11.73" fill="#141414">VVS2</text></g>
<g><line x1="483.4" x2="483.4" y1="190.5" y2="205.08" stroke="#e6e6e6" stroke-width="1.42"/><line x1="497.81" x2="497.81" y1="190.5" y2="205.08" stroke="#e6e6e6" stroke-width="0.71"/><line x1="512.22" x2="512.22" y1="190.5" y2="205.08" stroke="#e6e6e6" stroke-width="1.42"/><line x1="526.63" x2="526.63" y1="190.5" y2="205.08" stroke="#e6e6e6" stroke-width="0.71"/><line x1="541.04" x2="541.04" y1="190.5" y2="205.08" stroke="#e6e6e6" stroke-width="1.42"/><line x1="555.45" x2="555.45" y1="190.5" y2="205.08" stroke="#e6e6e6" stroke-width="0.71"/><line x1="569.86" x2="569.86" y1="190.5" y2="205.08" stroke="#e6e6e6" stroke-width="1.42"/><line x1="584.27" x2="584.27" y1="190.5" y2="205.08" stroke="#e6e6e6" stroke-width="0.71"/><line x1="598.68" x2="598.68" y1="190.5" y2="205.08" stroke="#e6e6e6" stroke-width="1.42"/><line x1="613.09" x2="613.09" y1="190.5" y2="205.08" stroke="#e6e6e6" stroke-width="0.71"/><line x1="627.5" x2="627.5" y1="190.5" y2="205.08" stroke="#e6e6e6" stroke-width="1.42"/></g>
<path d="M489.5,204.47L489.5,198.41L490.08,198.41L490.08,198.66L490.65,198.66L490.65,198.72L491.23,198.72L491.23,200.19L491.81,200.19L491.81,199.22L492.38,199.22L492.38,200.19L492.96,200.19L492.96,202.22L493.53,202.22L493.53,202.16L494.11,202.16L494.11,202.49L494.69,202.49L494.69,202.31L495.26,202.31L495.26,200.56L495.84,200.56L495.84,200.11L496.42,200.11L496.42,200.52L496.99,200.52L496.99,200.13L497.57,200.13L497.57,201.11L498.15,201.11L498.15,202.86L498.72,202.86L498.72,202.96L499.3,202.96L499.3,203L499.87,203L499.88,203.2L500.45,203.2L500.45,203.17L501.03,203.17L501.03,203.08L501.6,203.08L501.6,203.24L502.18,203.24L502.18,203.25L502.76,203.25L502.76,203.21L503.33,203.21L503.33,203.14L503.91,203.14L503.91,203.48L504.49,203.48L504.49,203.53L505.06,203.53L505.06,203.59L505.64,203.59L505.64,203.87L506.22,203.87L506.22,203.87L506.79,203.87L506.79,204.23L507.37,204.23L507.37,204.23L507.94,204.23L507.94,204.23L508.52,204.23L508.52,204.23L509.1,204.23L509.1,204.23L509.67,204.23L509.67,204.23L510.25,204.23L510.25,204.23L510.83,204.23L510.83,204.23L511.4,204.23L511.4,204.23L511.98,204.23L511.98,203.2L512.56,203.2L512.56,203.65L513.13,203.65L513.13,203.99L513.71,203.99L513.71,203.99L514.28,203.99L514.29,203.99L514.86,203.99L514.86,203.99L515.44,203.99L515.44,203.99L516.01,203.99L516.01,203.96L516.59,203.96L516.59,203.26L517.17,203.26L517.17,203.25L517.74,203.25L517.74,203.49L518.32,203.49L518.32,203.36L518.9,203.36L518.9,203.22L519.47,203.22L519.47,203.27L520.05,203.27L520.05,203.23L520.63,203.23L520.63,203.25L521.2,203.25L521.2,203.16L521.78,203.16L521.78,203.11L522.35,203.11L522.35,203.38L522.93,203.38L522.93,203.87L523.51,203.87L523.51,203.87L524.08,203.87L524.08,203.87L524.66,203.87L524.66,203.87L525.24,203.87L525.24,203.85L525.81,203.85L525.81,203.65L526.39,203.65L526.39,203.51L526.97,203.51L526.97,203.51L527.54,203.51L527.54,203.51L528.12,203.51L528.12,203.7L528.69,203.7L528.7,203.99L529.27,203.99L529.27,203.99L529.85,203.99L529.85,203.99L530.42,203.99L530.42,203.99L531,203.99L531,203.99L531.58,203.99L531.58,204.35L532.15,204.35L532.15,204.35L532.73,204.35L532.73,204.35L533.31,204.35L533.31,204.36L533.88,204.36L533.88,204.36L534.46,204.36L534.46,204.36L535.04,204.36L535.04,204.36L535.61,204.36L535.61,204.36L536.19,204.36L536.19,204.36L536.76,204.36L536.76,204.36L537.34,204.36L537.34,204.37L537.92,204.37L537.92,204.37L538.49,204.37L538.49,204.37L539.07,204.37L539.07,204.37L539.65,204.37L539.65,204.37L540.22,204.37L540.22,204.37L540.8,204.37L540.8,204.38L541.38,204.38L541.38,204.38L541.95,204.38L541.95,204.39L542.53,204.39L544,204.43L627.8,204.43L627.8,204.47 Z" fill="#ddb780"/>
<clipPath id="c2_6"><rect x="634.75" y="190.5" width="30" height="14.59"/></clipPath>
<g clip-path="url(#c2_6)"><text transform="translate(641.25,198.49) rotate(90) translate(0,0.42) scale(1,1.1)" text-anchor="middle" font-size="11.73" fill="#141414">VVS1</text></g>
<g><line x1="483.4" x2="483.4" y1="212.41" y2="227" stroke="#e6e6e6" stroke-width="1.42"/><line x1="497.81" x2="497.81" y1="212.41" y2="227" stroke="#e6e6e6" stroke-width="0.71"/><line x1="512.22" x2="512.22" y1="212.41" y2="227" stroke="#e6e6e6" stroke-width="1.42"/><line x1="526.63" x2="526.63" y1="212.41" y2="227" stroke="#e6e6e6" stroke-width="0.71"/><line x1="541.04" x2="541.04" y1="212.41" y2="227" stroke="#e6e6e6" stroke-width="1.42"/><line x1="555.45" x2="555.45" y1="212.41" y2="227" stroke="#e6e6e6" stroke-width="0.71"/><line x1="569.86" x2="569.86" y1="212.41" y2="227" stroke="#e6e6e6" stroke-width="1.42"/><line x1="584.27" x2="584.27" y1="212.41" y2="227" stroke="#e6e6e6" stroke-width="0.71"/><line x1="598.68" x2="598.68" y1="212.41" y2="227" stroke="#e6e6e6" stroke-width="1.42"/><line x1="613.09" x2="613.09" y1="212.41" y2="227" stroke="#e6e6e6" stroke-width="0.71"/><line x1="627.5" x2="627.5" y1="212.41" y2="227" stroke="#e6e6e6" stroke-width="1.42"/></g>
<path d="M489.5,226.39L489.5,225.17L490.08,225.17L490.08,224.99L490.65,224.99L490.65,224.93L491.23,224.93L491.23,225.06L491.81,225.06L491.81,224.89L492.38,224.89L492.38,224.73L492.96,224.73L492.96,225L493.53,225L493.53,224.73L494.11,224.73L494.11,224.86L494.69,224.86L494.69,224.92L495.26,224.92L495.26,224.94L495.84,224.94L495.84,224.83L496.42,224.83L496.42,225.02L496.99,225.02L496.99,224.63L497.57,224.63L497.57,224.85L498.15,224.85L498.15,225.12L498.72,225.12L498.72,225.67L499.3,225.67L499.3,225.67L499.87,225.67L499.88,225.67L500.45,225.67L500.45,225.67L501.03,225.67L501.03,225.67L501.6,225.67L501.6,225.67L502.18,225.67L502.18,225.67L502.76,225.67L502.76,226.27L503.33,226.27L503.33,226.27L503.91,226.27L503.91,226.27L504.49,226.27L504.49,226.27L505.06,226.27L505.06,226.27L505.64,226.27L505.64,226.27L506.22,226.27L506.22,226.27L506.79,226.27L506.79,226.27L507.37,226.27L507.37,226.27L507.94,226.27L507.94,226.27L508.52,226.27L508.52,226.27L509.1,226.27L509.1,226.27L509.67,226.27L509.67,226.27L510.25,226.27L510.25,226.27L510.83,226.27L510.83,226.27L511.4,226.27L511.4,226.27L511.98,226.27L511.98,225.16L512.56,225.16L512.56,225.76L513.13,225.76L513.13,226.09L513.71,226.09L513.71,226.09L514.28,226.09L514.29,226.09L514.86,226.09L514.86,226.09L515.44,226.09L515.44,226.09L516.01,226.09L516.01,226.09L516.59,226.09L516.59,226.09L517.17,226.09L517.17,226.09L517.74,226.09L517.74,226.09L518.32,226.09L518.32,226.09L518.9,226.09L518.9,226.09L519.47,226.09L519.47,226.09L520.05,226.09L520.05,226.09L520.63,226.09L520.63,226.09L521.2,226.09L521.2,226.09L521.78,226.09L521.78,226.09L522.35,226.09L522.35,226.09L522.93,226.09L522.93,226.09L523.51,226.09L523.51,226.09L524.08,226.09L524.08,226.09L524.66,226.09L524.66,226.09L525.24,226.09L525.24,226.21L525.81,226.21L525.81,226.24L526.39,226.24L526.39,226.24L526.97,226.24L526.97,226.24L527.54,226.24L527.54,226.24L528.12,226.24L528.12,226.24L528.69,226.24L528.7,226.24L529.27,226.24L529.27,226.24L529.85,226.24L529.85,226.24L530.42,226.24L530.42,226.24L531,226.24L531,226.24L531.58,226.24L531.58,226.24L532.15,226.24L532.15,226.24L532.73,226.24L532.73,226.24L533.31,226.24L533.31,226.24L533.88,226.24L533.88,226.24L534.46,226.24L534.46,226.24L535.04,226.24L535.04,226.24L535.61,226.24L535.61,226.24L536.19,226.24L536.19,226.25L536.76,226.25L536.76,226.26L537.34,226.26L537.34,226.28L537.92,226.28L537.92,226.29L538.49,226.29L538.49,226.3L539.07,226.3L539.07,226.32L539.65,226.32L539.65,226.33L540.22,226.33L540.22,226.34L540.8,226.34L540.8,226.36L541.38,226.36L541.38,226.36L541.95,226.36L541.95,226.36L542.53,226.36L627.8,226.36L627.8,226.39 Z" fill="#a4a4a4"/>
<clipPath id="c2_7"><rect x="634.75" y="212.41" width="30" height="14.59"/></clipPath>
<g clip-path="url(#c2_7)"><text transform="translate(641.25,220.41) rotate(90) translate(0,0.42) scale(1,1.1)" text-anchor="middle" font-size="11.73" fill="#141414">IF</text></g>
<text transform="rotate(0.1 43.85 252.55)" x="43.85" y="252.55" font-size="14.67" fill="#000000">depth</text>
<g><line x1="44.15" x2="196.65" y1="417.75" y2="417.75" stroke="#e6e6e6" stroke-width="0.71"/><line x1="44.15" x2="196.65" y1="385.25" y2="385.25" stroke="#e6e6e6" stroke-width="0.71"/><line x1="44.15" x2="196.65" y1="352.75" y2="352.75" stroke="#e6e6e6" stroke-width="0.71"/><line x1="44.15" x2="196.65" y1="320.25" y2="320.25" stroke="#e6e6e6" stroke-width="0.71"/><line x1="44.15" x2="196.65" y1="287.75" y2="287.75" stroke="#e6e6e6" stroke-width="0.71"/><line x1="44.15" x2="196.65" y1="401.5" y2="401.5" stroke="#e6e6e6" stroke-width="1.42"/><line x1="44.15" x2="196.65" y1="369" y2="369" stroke="#e6e6e6" stroke-width="1.42"/><line x1="44.15" x2="196.65" y1="336.5" y2="336.5" stroke="#e6e6e6" stroke-width="1.42"/><line x1="44.15" x2="196.65" y1="304" y2="304" stroke="#e6e6e6" stroke-width="1.42"/><line x1="44.15" x2="196.65" y1="271.5" y2="271.5" stroke="#e6e6e6" stroke-width="1.42"/><line x1="45.3" x2="45.3" y1="262.75" y2="430.3" stroke="#e6e6e6" stroke-width="1.42"/><line x1="59.71" x2="59.71" y1="262.75" y2="430.3" stroke="#e6e6e6" stroke-width="0.71"/><line x1="74.12" x2="74.12" y1="262.75" y2="430.3" stroke="#e6e6e6" stroke-width="1.42"/><line x1="88.53" x2="88.53" y1="262.75" y2="430.3" stroke="#e6e6e6" stroke-width="0.71"/><line x1="102.94" x2="102.94" y1="262.75" y2="430.3" stroke="#e6e6e6" stroke-width="1.42"/><line x1="117.35" x2="117.35" y1="262.75" y2="430.3" stroke="#e6e6e6" stroke-width="0.71"/><line x1="131.76" x2="131.76" y1="262.75" y2="430.3" stroke="#e6e6e6" stroke-width="1.42"/><line x1="146.17" x2="146.17" y1="262.75" y2="430.3" stroke="#e6e6e6" stroke-width="0.71"/><line x1="160.58" x2="160.58" y1="262.75" y2="430.3" stroke="#e6e6e6" stroke-width="1.42"/><line x1="174.99" x2="174.99" y1="262.75" y2="430.3" stroke="#e6e6e6" stroke-width="0.71"/><line x1="189.4" x2="189.4" y1="262.75" y2="430.3" stroke="#e6e6e6" stroke-width="1.42"/></g>
<polygon points="51,306.9 51.3,307.8 51.59,307.8 51.59,307.65 51.88,307.65 51.88,307.84 52.16,307.84 52.16,304.6 52.45,304.6 52.45,308.17 52.74,308.17 52.74,308.38 53.03,308.38 53.03,305.19 53.32,305.19 53.32,311.53 53.61,311.53 53.61,313.97 53.89,313.97 53.89,314.38 54.18,314.38 54.18,318.25 54.47,318.25 54.47,318.85 54.76,318.85 54.76,317.86 55.05,317.86 55.05,316.75 55.33,316.75 55.33,320.1 55.62,320.1 55.62,319.77 55.91,319.77 55.91,319.81 56.2,319.81 56.2,301.05 56.49,301.05 56.49,309.38 56.78,309.38 56.78,318.35 57.06,318.35 57.06,316.75 57.35,316.75 57.35,317.71 57.64,317.71 57.64,318.94 57.93,318.94 57.93,319.28 58.22,319.28 58.22,320.38 58.5,320.38 58.51,318.63 58.79,318.63 58.79,320.49 59.08,320.49 59.08,320.64 59.37,320.64 59.37,316.82 59.66,316.82 59.66,320.43 59.95,320.43 59.95,318.71 60.23,318.71 60.23,320.92 60.52,320.92 60.52,318.44 60.81,318.44 60.81,318.79 61.1,318.79 61.1,318.91 61.39,318.91 61.39,318.98 61.67,318.98 61.68,313.69 61.96,313.69 61.96,314.2 62.25,314.2 62.25,315.12 62.54,315.12 62.54,315.14 62.83,315.14 62.83,316.72 63.12,316.72 63.12,307.79 63.4,307.79 63.4,312.38 63.69,312.38 63.69,314.3 63.98,314.3 63.98,293.2 64.27,293.2 64.27,303.44 64.56,303.44 64.56,304.93 64.85,304.93 64.85,304.16 65.13,304.16 65.13,293.45 65.42,293.45 65.42,308.96 65.71,308.96 65.71,309.97 66,309.97 66,312.67 66.29,312.67 66.29,306.69 66.57,306.69 66.57,307.23 66.86,307.23 66.86,313.21 67.15,313.21 67.15,311.23 67.44,311.23 67.44,313.4 67.73,313.4 67.73,302.3 68.02,302.3 68.02,304.37 68.3,304.37 68.3,303.89 68.59,303.89 68.59,301.38 68.88,301.38 68.88,308 69.17,308 69.17,306.35 69.46,306.35 69.46,312.37 69.74,312.37 69.74,307.82 70.03,307.82 70.03,297.27 70.32,297.27 70.32,283.61 70.61,283.61 70.61,282.7 70.9,282.7 70.9,298.43 71.19,298.43 71.19,297.1 71.47,297.1 71.47,298.2 71.76,298.2 71.76,296.63 72.05,296.63 72.05,298.31 72.34,298.31 72.34,291.01 72.63,291.01 72.63,299.15 72.91,299.15 72.92,299.04 73.2,299.04 73.2,269.89 73.49,269.89 73.49,262.29 73.78,262.29 73.78,271.54 74.07,271.54 74.07,301.35 74.36,301.35 74.36,306.07 74.64,306.07 74.64,294.01 74.93,294.01 74.93,303 75.22,303 75.22,307.92 75.51,307.92 75.51,308.76 75.8,308.76 75.8,310.25 76.08,310.25 76.09,306.24 76.37,306.24 76.37,312.49 76.66,312.49 76.66,313.51 76.95,313.51 76.95,314.32 77.24,314.32 77.24,315.16 77.53,315.16 77.53,316.61 77.81,316.61 77.81,312.74 78.1,312.74 78.1,317.66 78.39,317.66 78.39,316.87 78.68,316.87 78.68,317.18 78.97,317.18 78.97,317.59 79.26,317.59 79.26,311.81 79.54,311.81 79.54,313.31 79.83,313.31 79.83,304.77 80.12,304.77 80.12,305.2 80.41,305.2 80.41,306.74 80.7,306.74 80.7,314.96 80.98,314.96 80.98,311.37 81.27,311.37 81.27,314.41 81.56,314.41 81.56,316.06 81.85,316.06 81.85,312.53 82,312.92 82.29,312.92 82.29,312.57 82.58,312.57 82.58,311.84 82.86,311.84 82.86,312.81 83.15,312.81 83.15,312.61 83.44,312.61 83.44,312.56 83.73,312.56 83.73,311.39 84.02,311.39 84.02,309.17 84.31,309.17 84.31,309.88 84.59,309.88 84.59,310.45 84.88,310.45 84.88,312.01 85.17,312.01 85.17,311.7 85.46,311.7 85.46,308.65 85.75,308.65 85.75,311.58 86.03,311.58 86.03,312.02 86.32,312.02 86.32,310.71 86.61,310.71 86.61,310.84 86.9,310.84 86.9,311.31 87.19,311.31 87.19,311.13 87.48,311.13 87.48,287.97 87.76,287.97 87.76,290.25 88.05,290.25 88.05,290.29 88.34,290.29 88.34,290.02 88.63,290.02 88.63,297.82 88.92,297.82 88.92,307.3 89.2,307.3 89.21,307.12 89.49,307.12 89.49,307.3 89.78,307.3 89.78,306.58 90.07,306.58 90.07,307.21 90.36,307.21 90.36,307.2 90.65,307.2 90.65,304.83 90.93,304.83 90.93,307.21 91.22,307.21 91.22,309.46 91.51,309.46 91.51,311.71 91.8,311.71 91.8,310.29 92.09,310.29 92.09,309.82 92.37,309.82 92.38,310.86 92.66,310.86 92.66,311.63 92.95,311.63 92.95,310.51 93.24,310.51 93.24,310.85 93.53,310.85 93.53,311.83 93.82,311.83 93.82,311.82 94.1,311.82 94.1,308.15 94.39,308.15 94.39,311.36 94.68,311.36 94.68,311.8 94.97,311.8 94.97,310.88 95.26,310.88 95.26,311.46 95.55,311.46 95.55,311.24 95.83,311.24 95.83,310.09 96.12,310.09 96.12,311.85 96.41,311.85 96.41,311.26 96.7,311.26 96.7,311.72 96.99,311.72 96.99,311.63 97.27,311.63 97.27,310.35 97.56,310.35 97.56,311.63 97.85,311.63 97.85,304.57 98.14,304.57 98.14,304.1 98.43,304.1 98.43,304.52 98.72,304.52 98.72,304.57 99,304.57 99,304.42 99.29,304.42 99.29,304.13 99.58,304.13 99.58,304.15 99.87,304.15 99.87,304.42 100.16,304.42 100.16,301.39 100.44,301.39 100.44,304.14 100.73,304.14 100.73,304.59 101.02,304.59 101.02,304.37 101.31,304.37 101.31,304.58 101.6,304.58 101.6,304.25 101.89,304.25 101.89,304.54 102.17,304.54 102.17,304.35 102.46,304.35 102.46,304.22 102.75,304.22 102.75,278.44 103.04,278.44 103.04,276.61 103.33,276.61 103.33,278.58 103.61,278.58 103.62,278.65 103.9,278.65 103.9,286.31 104.19,286.31 104.19,293.16 104.48,293.16 104.48,293.29 104.77,293.29 104.77,293.51 105.06,293.51 105.5,293.1 105.8,304.5 148.7,304.5 148.9,299.2 189.7,299.2 189.7,391.7 148.9,391.7 148.7,394.4 106,394.4 105.8,401.5 105.06,401.17 104.77,401.17 104.77,402.87 104.48,402.87 104.48,400.98 104.19,400.98 104.19,401.22 103.9,401.22 103.9,402.13 103.62,402.13 103.61,401.17 103.33,401.17 103.33,405.08 103.04,405.08 103.04,405.86 102.75,405.86 102.75,386.77 102.46,386.77 102.46,386.81 102.17,386.81 102.17,387.09 101.89,387.09 101.89,386.82 101.6,386.82 101.6,386.68 101.31,386.68 101.31,386.43 101.02,386.43 101.02,386.57 100.73,386.57 100.73,387.26 100.44,387.26 100.44,388.31 100.16,388.31 100.16,386.84 99.87,386.84 99.87,386.7 99.58,386.7 99.58,390.16 99.29,390.16 99.29,386.53 99,386.53 99,386.71 98.72,386.71 98.72,386.57 98.43,386.57 98.43,386.67 98.14,386.67 98.14,386.4 97.85,386.4 97.85,378.3 97.56,378.3 97.56,378.39 97.27,378.39 97.27,378.53 96.99,378.53 96.99,378.58 96.7,378.58 96.7,379.86 96.41,379.86 96.41,378.59 96.12,378.59 96.12,379.06 95.83,379.06 95.83,378.94 95.55,378.94 95.55,378.6 95.26,378.6 95.26,378.19 94.97,378.19 94.97,378.4 94.68,378.4 94.68,379.2 94.39,379.2 94.39,378.52 94.1,378.52 94.1,378.47 93.82,378.47 93.82,378.64 93.53,378.64 93.53,380.47 93.24,380.47 93.24,387.76 92.95,387.76 92.95,387.85 92.66,387.85 92.66,389.56 92.38,389.56 92.37,387.76 92.09,387.76 92.09,388.29 91.8,388.29 91.8,387.54 91.51,387.54 91.51,387.96 91.22,387.96 91.22,388.04 90.93,388.04 90.93,387.84 90.65,387.84 90.65,387.83 90.36,387.83 90.36,387.69 90.07,387.69 90.07,388.04 89.78,388.04 89.78,388.03 89.49,388.03 89.49,388.08 89.21,388.08 89.2,388.05 88.92,388.05 88.92,390.9 88.63,390.9 88.63,395.02 88.34,395.02 88.34,393.82 88.05,393.82 88.05,392.79 87.76,392.79 87.76,393.22 87.48,393.22 87.48,382.72 87.19,382.72 87.19,382.98 86.9,382.98 86.9,382.48 86.61,382.48 86.61,382.7 86.32,382.7 86.32,382.68 86.03,382.68 86.03,383.16 85.75,383.16 85.75,383.34 85.46,383.34 85.46,384.07 85.17,384.07 85.17,382.37 84.88,382.37 84.88,382.64 84.59,382.64 84.59,382.21 84.31,382.21 84.31,382.44 84.02,382.44 84.02,382.91 83.73,382.91 83.73,382.11 83.44,382.11 83.44,382.12 83.15,382.12 83.15,382.1 82.86,382.1 82.86,382.3 82.58,382.3 82.58,381.85 82.29,381.85 82.29,383.85 82,383.85 81.85,382.39 81.85,384.21 81.56,384.21 81.56,387.41 81.27,387.41 81.27,378.93 80.98,378.93 80.98,379.07 80.7,379.07 80.7,378.79 80.41,378.79 80.41,378.7 80.12,378.7 80.12,379.84 79.83,379.84 79.83,380.09 79.54,380.09 79.54,380.27 79.26,380.27 79.26,389.8 78.97,389.8 78.97,379.2 78.68,379.2 78.68,382.29 78.39,382.29 78.39,379.83 78.1,379.83 78.1,378.74 77.81,378.74 77.81,379.14 77.53,379.14 77.53,379.91 77.24,379.91 77.24,384.85 76.95,384.85 76.95,390.05 76.66,390.05 76.66,391.11 76.37,391.11 76.37,385.69 76.09,385.69 76.08,386.03 75.8,386.03 75.8,387.11 75.51,387.11 75.51,386.06 75.22,386.06 75.22,392.95 74.93,392.95 74.93,391.13 74.64,391.13 74.64,388.55 74.36,388.55 74.36,384.77 74.07,384.77 74.07,402.55 73.78,402.55 73.78,422.91 73.49,422.91 73.49,391.61 73.2,391.61 73.2,390 72.92,390 72.91,390.35 72.63,390.35 72.63,390.39 72.34,390.39 72.34,391.03 72.05,391.03 72.05,389.17 71.76,389.17 71.76,389.71 71.47,389.71 71.47,389.99 71.19,389.99 71.19,394.26 70.9,394.26 70.9,395.08 70.61,395.08 70.61,396.9 70.32,396.9 70.32,391.02 70.03,391.02 70.03,383.47 69.74,383.47 69.74,375.53 69.46,375.53 69.46,387.21 69.17,387.21 69.17,382.64 68.88,382.64 68.88,385.84 68.59,385.84 68.59,383.31 68.3,383.31 68.3,383.04 68.02,383.04 68.02,382.3 67.73,382.3 67.73,384.97 67.44,384.97 67.44,389.15 67.15,389.15 67.15,385.9 66.86,385.9 66.86,387.24 66.57,387.24 66.57,386.58 66.29,386.58 66.29,406.5 66,406.5 66,385.89 65.71,385.89 65.71,387.34 65.42,387.34 65.42,384.79 65.13,384.79 65.13,388.69 64.85,388.69 64.85,397.01 64.56,397.01 64.56,402.21 64.27,402.21 64.27,386.65 63.98,386.65 63.98,389.5 63.69,389.5 63.69,384.71 63.4,384.71 63.4,388.48 63.12,388.48 63.12,384.52 62.83,384.52 62.83,396.1 62.54,396.1 62.54,389.38 62.25,389.38 62.25,388.27 61.96,388.27 61.96,381.22 61.68,381.22 61.67,381.06 61.39,381.06 61.39,382.06 61.1,382.06 61.1,380.97 60.81,380.97 60.81,382.62 60.52,382.62 60.52,380.7 60.23,380.7 60.23,381.45 59.95,381.45 59.95,391.04 59.66,391.04 59.66,395.77 59.37,395.77 59.37,382.31 59.08,382.31 59.08,383.46 58.79,383.46 58.79,380.81 58.51,380.81 58.5,383.21 58.22,383.21 58.22,383.55 57.93,383.55 57.93,381.03 57.64,381.03 57.64,384.65 57.35,384.65 57.35,380.1 57.06,380.1 57.06,380.15 56.78,380.15 56.78,379.95 56.49,379.95 56.49,381.49 56.2,381.49 56.2,382.76 55.91,382.76 55.91,380.4 55.62,380.4 55.62,379.87 55.33,379.87 55.33,386.69 55.05,386.69 55.05,380.06 54.76,380.06 54.76,380.13 54.47,380.13 54.47,380.04 54.18,380.04 54.18,387.4 53.89,387.4 53.89,382.22 53.61,382.22 53.61,380.34 53.32,380.34 53.32,389.04 53.03,389.04 53.03,387.68 52.74,387.68 52.74,387.8 52.45,387.8 52.45,388.77 52.16,388.77 52.16,388.79 51.88,388.79 51.88,387.25 51.59,387.25 51.59,392.87 51.3,392.87 51,388.75" fill="#1d3b39" fill-opacity="0.115"/>
<polygon points="51,337 51.3,336.86 51.59,336.86 51.59,336.78 51.88,336.78 51.88,336.57 52.16,336.57 52.16,336.72 52.45,336.72 52.45,336.72 52.74,336.72 52.74,335.63 53.03,335.63 53.03,336.16 53.32,336.16 53.32,336.08 53.61,336.08 53.61,337 53.89,337 53.89,336.99 54.18,336.99 54.18,337.41 54.47,337.41 54.47,336.92 54.76,336.92 54.76,337.79 55.05,337.79 55.05,338.13 55.33,338.13 55.33,338.17 55.62,338.17 55.62,337.72 55.91,337.72 55.91,337.76 56.2,337.76 56.2,337.53 56.49,337.53 56.49,336.75 56.78,336.75 56.78,334 57.06,334 57.06,336.86 57.35,336.86 57.35,336.06 57.64,336.06 57.64,336.87 57.93,336.87 57.93,336.92 58.22,336.92 58.22,337.49 58.5,337.49 58.51,337.43 58.79,337.43 58.79,337.48 59.08,337.48 59.08,337.6 59.37,337.6 59.37,336.89 59.66,336.89 59.66,337.15 59.95,337.15 59.95,336.94 60.23,336.94 60.23,336.61 60.52,336.61 60.52,336.72 60.81,336.72 60.81,336.05 61.1,336.05 61.1,336.24 61.39,336.24 61.39,336.71 61.67,336.71 61.68,336.64 61.96,336.64 61.96,334.7 62.25,334.7 62.25,337.01 62.54,337.01 62.54,337.37 62.83,337.37 62.83,337.39 63.12,337.39 63.12,335.77 63.4,335.77 63.4,337.51 63.69,337.51 63.69,337.42 63.98,337.42 63.98,337.12 64.27,337.12 64.27,336.86 64.56,336.86 64.56,337.01 64.85,337.01 64.85,336.66 65.13,336.66 65.13,336.82 65.42,336.82 65.42,334.54 65.71,334.54 65.71,336.87 66,336.87 66,337.25 66.29,337.25 66.29,336.18 66.57,336.18 66.57,337.68 66.86,337.68 66.86,337.91 67.15,337.91 67.15,334.72 67.44,334.72 67.44,338.04 67.73,338.04 67.73,337.54 68.02,337.54 68.02,337.27 68.3,337.27 68.3,334.15 68.59,334.15 68.59,336.71 68.88,336.71 68.88,336.93 69.17,336.93 69.17,334.57 69.46,334.57 69.46,335.93 69.74,335.93 69.74,335.06 70.03,335.06 70.03,324.62 70.32,324.62 70.32,325.25 70.61,325.25 70.61,325.88 70.9,325.88 70.9,335.35 71.19,335.35 71.19,333.63 71.47,333.63 71.47,334.04 71.76,334.04 71.76,335.3 72.05,335.3 72.05,335.25 72.34,335.25 72.34,335.17 72.63,335.17 72.63,334.27 72.91,334.27 72.92,335.05 73.2,335.05 73.2,326.21 73.49,326.21 73.49,324.89 73.78,324.89 73.78,326.15 74.07,326.15 74.07,336.56 74.36,336.56 74.36,336.51 74.64,336.51 74.64,336.41 74.93,336.41 74.93,333.59 75.22,333.59 75.22,334.71 75.51,334.71 75.51,337.5 75.8,337.5 75.8,336.42 76.08,336.42 76.09,336.47 76.37,336.47 76.37,337.78 76.66,337.78 76.66,337.82 76.95,337.82 76.95,337.23 77.24,337.23 77.24,337.37 77.53,337.37 77.53,337.5 77.81,337.5 77.81,337.44 78.1,337.44 78.1,337.46 78.39,337.46 78.39,337.41 78.68,337.41 78.68,337.43 78.97,337.43 78.97,337.32 79.26,337.32 79.26,337.53 79.54,337.53 79.54,334.41 79.83,334.41 79.83,336.64 80.12,336.64 80.12,335.08 80.41,335.08 80.41,335.45 80.7,335.45 80.7,336.52 80.98,336.52 80.98,336.47 81.27,336.47 81.27,337.39 81.56,337.39 81.56,337.42 81.85,337.42 81.85,337.37 82.14,337.37 82.14,337.18 82.43,337.18 82.43,337.33 82.71,337.33 82.71,337.58 83,337.58 83,337.4 83.29,337.4 83.29,336.97 83.58,336.97 83.58,337.44 83.87,337.44 83.87,337.55 84.15,337.55 84.15,337.4 84.44,337.4 84.44,337.48 84.73,337.48 84.73,335.49 85.02,335.49 85.02,337.38 85.31,337.38 85.31,337.66 85.6,337.66 85.6,336.6 85.88,336.6 85.88,337.46 86.17,337.46 86.17,337.52 86.46,337.52 86.46,334.73 86.75,334.73 86.75,337.75 87.04,337.75 87.04,337.66 87.32,337.66 87.33,329.78 87.61,329.78 87.61,329.82 87.9,329.82 87.9,329.78 88.19,329.78 88.19,333.18 88.48,333.18 88.48,333.35 88.77,333.35 88.77,336.91 89.05,336.91 89.05,337.67 89.34,337.67 89.34,337.54 89.63,337.54 89.63,337.27 89.92,337.27 89.92,337.6 90.21,337.6 90.21,337.53 90.49,337.53 90.5,337.82 90.78,337.82 90.78,337.25 91.07,337.25 91.07,336.89 91.36,336.89 91.36,337.26 91.65,337.26 91.65,337.92 91.94,337.92 91.94,336.84 92.22,336.84 92.22,337.93 92.51,337.93 92.51,337.74 92.8,337.74 92.8,337.85 93.09,337.85 93.09,337.78 93.38,337.78 93.38,337.52 93.67,337.52 93.67,337.6 93.95,337.6 93.95,337.68 94.24,337.68 94.24,337.77 94.53,337.77 94.53,337.64 94.82,337.64 94.82,337.8 95.11,337.8 95.11,337.67 95.39,337.67 95.39,335.77 95.68,335.77 95.68,337.88 95.97,337.88 95.97,337.69 96.26,337.69 96.26,335.22 96.55,335.22 96.55,337.56 96.84,337.56 96.84,337.52 97.12,337.52 97.12,337.77 97.41,337.77 97.41,337.66 97.7,337.66 97.7,337.12 97.99,337.12 97.99,337.54 98.28,337.54 98.28,336.12 98.56,336.12 98.56,336.9 98.85,336.9 98.85,336.52 99.14,336.52 99.14,336.57 99.43,336.57 99.43,336.86 99.72,336.86 99.72,336.81 100.01,336.81 102.8,336.5 102.9,326 103.4,326 103.5,334 105.5,334 105.8,337.3 148.7,337.3 148.9,334.2 189.7,334.2 189.7,357 148.9,357 148.7,360.3 103.3,360.3 103,355.6 100.01,355.54 99.72,355.54 99.72,355.07 99.43,355.07 99.43,355.07 99.14,355.07 99.14,355.5 98.85,355.5 98.85,354.93 98.56,354.93 98.56,355.88 98.28,355.88 98.28,352.89 97.99,352.89 97.99,352.45 97.7,352.45 97.7,353.86 97.41,353.86 97.41,353.86 97.12,353.86 97.12,353.2 96.84,353.2 96.84,352.85 96.55,352.85 96.55,353.26 96.26,353.26 96.26,354.99 95.97,354.99 95.97,353.13 95.68,353.13 95.68,353.22 95.39,353.22 95.39,354.94 95.11,354.94 95.11,352.99 94.82,352.99 94.82,352.9 94.53,352.9 94.53,353.36 94.24,353.36 94.24,352.56 93.95,352.56 93.95,352.42 93.67,352.42 93.67,352.58 93.38,352.58 93.38,352.81 93.09,352.81 93.09,352.42 92.8,352.42 92.8,353.86 92.51,353.86 92.51,353.41 92.22,353.41 92.22,352.77 91.94,352.77 91.94,352.95 91.65,352.95 91.65,352.79 91.36,352.79 91.36,356.63 91.07,356.63 91.07,358.27 90.78,358.27 90.78,357.55 90.5,357.55 90.49,359.57 90.21,359.57 90.21,357.92 89.92,357.92 89.92,360.45 89.63,360.45 89.63,357.59 89.34,357.59 89.34,362.53 89.05,362.53 89.05,357.89 88.77,357.89 88.77,357.45 88.48,357.45 88.48,358.04 88.19,358.04 88.19,355.72 87.9,355.72 87.9,355.19 87.61,355.19 87.61,354.19 87.33,354.19 87.32,355.73 87.04,355.73 87.04,353.72 86.75,353.72 86.75,354.04 86.46,354.04 86.46,354.36 86.17,354.36 86.17,354.11 85.88,354.11 85.88,353.97 85.6,353.97 85.6,354.26 85.31,354.26 85.31,354.28 85.02,354.28 85.02,354.3 84.73,354.3 84.73,354.09 84.44,354.09 84.44,355.12 84.15,355.12 84.15,354.48 83.87,354.48 83.87,353.73 83.58,353.73 83.58,355.88 83.29,355.88 83.29,359.3 83,359.3 83,354.01 82.71,354.01 82.71,354.11 82.43,354.11 82.43,353.85 82.14,353.85 82.14,358.64 81.85,358.64 81.85,354.7 81.56,354.7 81.56,354.14 81.27,354.14 81.27,354.26 80.98,354.26 80.98,354.31 80.7,354.31 80.7,357.2 80.41,357.2 80.41,353.87 80.12,353.87 80.12,353.86 79.83,353.86 79.83,355.99 79.54,355.99 79.54,354.45 79.26,354.45 79.26,354.53 78.97,354.53 78.97,355.2 78.68,355.2 78.68,354.24 78.39,354.24 78.39,354.32 78.1,354.32 78.1,355.73 77.81,355.73 77.81,354.29 77.53,354.29 77.53,353.83 77.24,353.83 77.24,353.89 76.95,353.89 76.95,354.43 76.66,354.43 76.66,353.77 76.37,353.77 76.37,356.15 76.09,356.15 76.08,355.62 75.8,355.62 75.8,354.04 75.51,354.04 75.51,353.97 75.22,353.97 75.22,353.76 74.93,353.76 74.93,353.95 74.64,353.95 74.64,353.8 74.36,353.8 74.36,355.38 74.07,355.38 74.07,354.64 73.78,354.64 73.78,364.9 73.49,364.9 73.49,364.98 73.2,364.98 73.2,364.96 72.92,364.96 72.91,365.7 72.63,365.7 72.63,364.56 72.34,364.56 72.34,365.85 72.05,365.85 72.05,355.73 71.76,355.73 71.76,357.74 71.47,357.74 71.47,356.57 71.19,356.57 71.19,355.49 70.9,355.49 70.9,356.87 70.61,356.87 70.61,355.49 70.32,355.49 70.32,357.4 70.03,357.4 70.03,352.16 69.74,352.16 69.74,352.09 69.46,352.09 69.46,352.13 69.17,352.13 69.17,352.29 68.88,352.29 68.88,352.61 68.59,352.61 68.59,352.99 68.3,352.99 68.3,352.48 68.02,352.48 68.02,352.35 67.73,352.35 67.73,351.92 67.44,351.92 67.44,352.79 67.15,352.79 67.15,352.2 66.86,352.2 66.86,355.5 66.57,355.5 66.57,351.91 66.29,351.91 66.29,352.68 66,352.68 66,353.86 65.71,353.86 65.71,353.63 65.42,353.63 65.42,353.66 65.13,353.66 65.13,355.21 64.85,355.21 64.85,361.04 64.56,361.04 64.56,361.99 64.27,361.99 64.27,354.97 63.98,354.97 63.98,355.22 63.69,355.22 63.69,354.36 63.4,354.36 63.4,355.02 63.12,355.02 63.12,354.82 62.83,354.82 62.83,354.89 62.54,354.89 62.54,354.34 62.25,354.34 62.25,354.92 61.96,354.92 61.96,356.38 61.68,356.38 61.67,355.18 61.39,355.18 61.39,355.15 61.1,355.15 61.1,354.43 60.81,354.43 60.81,354.45 60.52,354.45 60.52,356 60.23,356 60.23,354.12 59.95,354.12 59.95,354.02 59.66,354.02 59.66,355.13 59.37,355.13 59.37,354.62 59.08,354.62 59.08,354.05 58.79,354.05 58.79,354.08 58.51,354.08 58.5,354.07 58.22,354.07 58.22,354.06 57.93,354.06 57.93,354.39 57.64,354.39 57.64,356.08 57.35,356.08 57.35,355.26 57.06,355.26 57.06,354.63 56.78,354.63 56.78,354.03 56.49,354.03 56.49,353.82 56.2,353.82 56.2,354.46 55.91,354.46 55.91,353.74 55.62,353.74 55.62,355.17 55.33,355.17 55.33,358.13 55.05,358.13 55.05,357.13 54.76,357.13 54.76,356.84 54.47,356.84 54.47,358.33 54.18,358.33 54.18,357.44 53.89,357.44 53.89,361.48 53.61,361.48 53.61,357.83 53.32,357.83 53.32,356.16 53.03,356.16 53.03,356.46 52.74,356.46 52.74,356.75 52.45,356.75 52.45,357.66 52.16,357.66 52.16,355.79 51.88,355.79 51.88,355.94 51.59,355.94 51.59,355.91 51.3,355.91 51,356.25" fill="#1d3b39" fill-opacity="0.17"/>
<polyline points="51,348.1 51.8,345.5 52.4,347.5 53,341.25 53.8,348 54.6,345 55.5,349.4 56.5,341.25 57.5,348.75 58.5,346 59.5,339.4 60.5,348.75 61.3,346 62,345.6 63,349 63.8,347 64.5,349.4 65.5,342.5 66.5,346.9 68,344.4 70,340.6 71,338.1 72,340 73,339 74,343.1 75,345.6 76,345.6 77,348.1 78.5,345.6 79.3,345.6 79.5,340.25 80.5,340.25 81,346.25 82,346.9 82.5,345.25 87.3,345.25 87.5,340.6 89,340.6 89.5,347.25 93,347.25 93.2,344.4 98,344.4 98.2,343.1 102.5,343.1 102.9,340.6 103.4,340.6 103.8,345.25 105,345.25 106,346.9 148.7,346.9 148.9,343 189.7,343" fill="none" stroke="#16302f" stroke-width="1.5" stroke-linejoin="round"/>
<text transform="rotate(0.1 37.15 406.75)" x="37.15" y="406.75" text-anchor="end" font-size="11.73" fill="#3c3c3c">57.5</text>
<text transform="rotate(0.1 37.15 374.25)" x="37.15" y="374.25" text-anchor="end" font-size="11.73" fill="#3c3c3c">60.0</text>
<text transform="rotate(0.1 37.15 341.75)" x="37.15" y="341.75" text-anchor="end" font-size="11.73" fill="#3c3c3c">62.5</text>
<text transform="rotate(0.1 37.15 309.25)" x="37.15" y="309.25" text-anchor="end" font-size="11.73" fill="#3c3c3c">65.0</text>
<text transform="rotate(0.1 37.15 276.75)" x="37.15" y="276.75" text-anchor="end" font-size="11.73" fill="#3c3c3c">67.5</text>
<text transform="rotate(0.1 45.3 445.9)" x="45.3" y="445.9" text-anchor="middle" font-size="11.73" fill="#3c3c3c">0</text>
<text transform="rotate(0.1 74.12 445.9)" x="74.12" y="445.9" text-anchor="middle" font-size="11.73" fill="#3c3c3c">1</text>
<text transform="rotate(0.1 102.94 445.9)" x="102.94" y="445.9" text-anchor="middle" font-size="11.73" fill="#3c3c3c">2</text>
<text transform="rotate(0.1 131.76 445.9)" x="131.76" y="445.9" text-anchor="middle" font-size="11.73" fill="#3c3c3c">3</text>
<text transform="rotate(0.1 160.58 445.9)" x="160.58" y="445.9" text-anchor="middle" font-size="11.73" fill="#3c3c3c">4</text>
<text transform="rotate(0.1 189.4 445.9)" x="189.4" y="445.9" text-anchor="middle" font-size="11.73" fill="#3c3c3c">5</text>
<text transform="rotate(0.1 253.15 252.55)" x="253.15" y="252.55" font-size="14.67" fill="#000000">table</text>
<g><line x1="253.45" x2="405.95" y1="404.2" y2="404.2" stroke="#e6e6e6" stroke-width="0.71"/><line x1="253.45" x2="405.95" y1="358.02" y2="358.02" stroke="#e6e6e6" stroke-width="0.71"/><line x1="253.45" x2="405.95" y1="311.84" y2="311.84" stroke="#e6e6e6" stroke-width="0.71"/><line x1="253.45" x2="405.95" y1="265.66" y2="265.66" stroke="#e6e6e6" stroke-width="0.71"/><line x1="253.45" x2="405.95" y1="427.29" y2="427.29" stroke="#e6e6e6" stroke-width="1.42"/><line x1="253.45" x2="405.95" y1="381.11" y2="381.11" stroke="#e6e6e6" stroke-width="1.42"/><line x1="253.45" x2="405.95" y1="334.93" y2="334.93" stroke="#e6e6e6" stroke-width="1.42"/><line x1="253.45" x2="405.95" y1="288.75" y2="288.75" stroke="#e6e6e6" stroke-width="1.42"/><line x1="254.6" x2="254.6" y1="262.75" y2="430.3" stroke="#e6e6e6" stroke-width="1.42"/><line x1="269.01" x2="269.01" y1="262.75" y2="430.3" stroke="#e6e6e6" stroke-width="0.71"/><line x1="283.42" x2="283.42" y1="262.75" y2="430.3" stroke="#e6e6e6" stroke-width="1.42"/><line x1="297.83" x2="297.83" y1="262.75" y2="430.3" stroke="#e6e6e6" stroke-width="0.71"/><line x1="312.24" x2="312.24" y1="262.75" y2="430.3" stroke="#e6e6e6" stroke-width="1.42"/><line x1="326.65" x2="326.65" y1="262.75" y2="430.3" stroke="#e6e6e6" stroke-width="0.71"/><line x1="341.06" x2="341.06" y1="262.75" y2="430.3" stroke="#e6e6e6" stroke-width="1.42"/><line x1="355.47" x2="355.47" y1="262.75" y2="430.3" stroke="#e6e6e6" stroke-width="0.71"/><line x1="369.88" x2="369.88" y1="262.75" y2="430.3" stroke="#e6e6e6" stroke-width="1.42"/><line x1="384.29" x2="384.29" y1="262.75" y2="430.3" stroke="#e6e6e6" stroke-width="0.71"/><line x1="398.7" x2="398.7" y1="262.75" y2="430.3" stroke="#e6e6e6" stroke-width="1.42"/></g>
<polygon points="260.3,303.53 262.9,303.53 262.9,311.84 266,311.84 266,325.69 267.6,325.69 267.6,311.84 268.3,311.84 268.3,303.53 268.8,303.53 268.8,325.69 272.3,325.69 272.3,303.53 273.6,303.53 273.6,279.51 274.4,279.51 274.4,303.53 277,303.53 277,325.69 279.4,325.69 279.4,279.51 280.2,279.51 280.2,316.46 282.5,316.46 282.5,293.37 283.5,293.37 283.5,316.46 284.5,316.46 284.5,303.53 286.5,303.53 286.5,325.69 287.2,325.69 287.2,303.53 288.5,303.53 288.5,325.69 289.3,325.69 289.3,303.53 296.5,303.53 296.5,293.37 298,293.37 298,316.46 300,316.46 300,303.53 307.5,303.53 307.5,316.46 312.2,316.46 312.2,293.37 357.8,293.37 357.8,316.46 399,316.46 399,390.35 357.8,390.35 357.8,399.58 315,399.58 315,404.2 311.5,404.2 311.5,390.35 307.5,390.35 307.5,399.58 300.3,399.58 300.3,390.35 298,390.35 298,404.2 296.5,404.2 296.5,399.58 295.7,399.58 295.7,408.82 293,408.82 293,399.58 291,399.58 291,408.82 289.5,408.82 289.5,399.58 288.4,399.58 288.4,408.82 287.4,408.82 287.4,399.58 286.3,399.58 286.3,408.82 284.8,408.82 284.8,413.44 284.4,413.44 284.4,399.58 282.3,399.58 282.3,390.35 280.5,390.35 280.5,399.58 277,399.58 277,408.82 275.4,408.82 275.4,399.58 274.6,399.58 274.6,418.05 274.2,418.05 274.2,408.82 272.3,408.82 272.3,399.58 268,399.58 268,408.82 267,408.82 267,399.58 266,399.58 266,408.82 265,408.82 265,399.58 264.2,399.58 264.2,408.82 263.2,408.82 263.2,399.58 262.9,399.58 262.9,422.67 262.6,422.67 262.6,399.58 262,399.58 262,408.82 260.3,408.82" fill="#1d3b39" fill-opacity="0.115"/>
<polygon points="260.3,344.17 273.8,344.17 273.8,334.93 274.3,334.93 274.3,344.17 279.6,344.17 279.6,334.93 280,334.93 280,344.17 282.8,344.17 282.8,334.93 283.4,334.93 283.4,344.17 296.8,344.17 296.8,334.93 297.3,334.93 297.3,344.17 312.2,344.17 312.2,334.93 357.8,334.93 357.8,344.17 399,344.17 399,362.64 307.5,362.64 307.5,371.87 300.5,371.87 300.5,362.64 296,362.64 296,371.87 283.5,371.87 283.5,362.64 280,362.64 280,371.87 262.5,371.87 262.5,362.64 260.3,362.64" fill="#1d3b39" fill-opacity="0.17"/>
<polyline points="260.3,353.4 261.5,353.4 261.5,362.64 262.5,362.64 262.5,371.87 263.1,371.87 263.1,362.64 263.7,362.64 263.7,371.87 264.3,371.87 264.3,362.64 264.9,362.64 264.9,371.87 265.8,371.87 265.8,362.64 268.3,362.64 268.3,353.4 269.3,353.4 269.3,371.87 269.9,371.87 269.9,362.64 270.5,362.64 270.5,371.87 271.5,371.87 271.5,362.64 273,362.64 273,353.4 275.5,353.4 275.5,362.64 279.5,362.64 279.5,353.4 283.1,353.4 283.1,344.17 283.6,344.17 283.6,353.4 284.5,353.4 284.5,362.64 288.8,362.64 288.8,353.4 290.5,353.4 290.5,362.64 291.3,362.64 291.3,353.4 293.5,353.4 293.5,362.64 296.5,362.64 296.5,353.4 312,353.4 312,344.17 313,344.17 313,353.4 399,353.4" fill="none" stroke="#16302f" stroke-width="1.5" stroke-linejoin="round"/>
<text transform="rotate(0.1 246.45 432.54)" x="246.45" y="432.54" text-anchor="end" font-size="11.73" fill="#3c3c3c">50</text>
<text transform="rotate(0.1 246.45 386.36)" x="246.45" y="386.36" text-anchor="end" font-size="11.73" fill="#3c3c3c">55</text>
<text transform="rotate(0.1 246.45 340.18)" x="246.45" y="340.18" text-anchor="end" font-size="11.73" fill="#3c3c3c">60</text>
<text transform="rotate(0.1 246.45 294)" x="246.45" y="294" text-anchor="end" font-size="11.73" fill="#3c3c3c">65</text>
<text transform="rotate(0.1 254.6 445.9)" x="254.6" y="445.9" text-anchor="middle" font-size="11.73" fill="#3c3c3c">0</text>
<text transform="rotate(0.1 283.42 445.9)" x="283.42" y="445.9" text-anchor="middle" font-size="11.73" fill="#3c3c3c">1</text>
<text transform="rotate(0.1 312.24 445.9)" x="312.24" y="445.9" text-anchor="middle" font-size="11.73" fill="#3c3c3c">2</text>
<text transform="rotate(0.1 341.06 445.9)" x="341.06" y="445.9" text-anchor="middle" font-size="11.73" fill="#3c3c3c">3</text>
<text transform="rotate(0.1 369.88 445.9)" x="369.88" y="445.9" text-anchor="middle" font-size="11.73" fill="#3c3c3c">4</text>
<text transform="rotate(0.1 398.7 445.9)" x="398.7" y="445.9" text-anchor="middle" font-size="11.73" fill="#3c3c3c">5</text>
<text transform="rotate(0.1 481.95 252.55)" x="481.95" y="252.55" font-size="14.67" fill="#000000">price</text>
<g><line x1="482.25" x2="634.75" y1="404.85" y2="404.85" stroke="#e6e6e6" stroke-width="0.71"/><line x1="482.25" x2="634.75" y1="363.55" y2="363.55" stroke="#e6e6e6" stroke-width="0.71"/><line x1="482.25" x2="634.75" y1="322.25" y2="322.25" stroke="#e6e6e6" stroke-width="0.71"/><line x1="482.25" x2="634.75" y1="280.95" y2="280.95" stroke="#e6e6e6" stroke-width="0.71"/><line x1="482.25" x2="634.75" y1="425.5" y2="425.5" stroke="#e6e6e6" stroke-width="1.42"/><line x1="482.25" x2="634.75" y1="384.2" y2="384.2" stroke="#e6e6e6" stroke-width="1.42"/><line x1="482.25" x2="634.75" y1="342.9" y2="342.9" stroke="#e6e6e6" stroke-width="1.42"/><line x1="482.25" x2="634.75" y1="301.6" y2="301.6" stroke="#e6e6e6" stroke-width="1.42"/><line x1="483.4" x2="483.4" y1="262.75" y2="430.3" stroke="#e6e6e6" stroke-width="1.42"/><line x1="497.81" x2="497.81" y1="262.75" y2="430.3" stroke="#e6e6e6" stroke-width="0.71"/><line x1="512.22" x2="512.22" y1="262.75" y2="430.3" stroke="#e6e6e6" stroke-width="1.42"/><line x1="526.63" x2="526.63" y1="262.75" y2="430.3" stroke="#e6e6e6" stroke-width="0.71"/><line x1="541.04" x2="541.04" y1="262.75" y2="430.3" stroke="#e6e6e6" stroke-width="1.42"/><line x1="555.45" x2="555.45" y1="262.75" y2="430.3" stroke="#e6e6e6" stroke-width="0.71"/><line x1="569.86" x2="569.86" y1="262.75" y2="430.3" stroke="#e6e6e6" stroke-width="1.42"/><line x1="584.27" x2="584.27" y1="262.75" y2="430.3" stroke="#e6e6e6" stroke-width="0.71"/><line x1="598.68" x2="598.68" y1="262.75" y2="430.3" stroke="#e6e6e6" stroke-width="1.42"/><line x1="613.09" x2="613.09" y1="262.75" y2="430.3" stroke="#e6e6e6" stroke-width="0.71"/><line x1="627.5" x2="627.5" y1="262.75" y2="430.3" stroke="#e6e6e6" stroke-width="1.42"/></g>
<polygon points="489.5,419 491.5,415.5 494,415.5 495.5,413.5 497.5,412 498,406 502,404 503,396 504,392 506,390 509,387.5 509.5,380 511.5,378 512.2,360 512.6,372 513.5,368 515,360 517,352 519,338 519.6,322 521,316 523,308 526.2,307 526.4,267.5 527.5,268 529.5,277.5 531,275 536,273.75 536.5,271 587,270.6 627.8,270.6 627.8,354.4 587.2,354.4 587,361.25 543.8,361.25 543.5,358.1 540.8,358.1 540.5,386.25 526.5,386.25 526.2,393.1 522.3,393.1 522,396 519.5,396 519.3,404.75 511.5,406 509,406.5 504,408 503,412 502,415 498,416 497.5,419.5 495.5,420 494,421 491.5,421 489.5,423" fill="#1d3b39" fill-opacity="0.115"/>
<polygon points="489.5,420.5 491.5,417 494,417.5 495.5,415.5 497.5,415 498,409 502,407.5 503,403 504,398 509,396 509.5,388 511.5,386 512.2,368 512.6,378 515,376 517,372 519,361.25 521,352.5 523,348 525,345 526.3,343 526.5,322 531,322 531.2,313.75 536,313.75 536.2,303.75 541.2,303.75 541.4,282.5 544,282.5 544.3,285.5 587,285.5 587.2,282.5 627.8,282.5 627.8,310.6 587.2,310.6 587,315 541.4,315 541.2,330 540.5,341.25 533.3,341.25 533,346.25 526.5,346.25 526.3,364 524,368 522,372 519.5,374 518,379 517,383 515,386 512.5,390 511.5,397 509.5,397 509,402.5 504,404 503,409 502,412 498,413 497.5,418 495.5,418.5 494,420 491.5,419.5 489.5,422.3" fill="#1d3b39" fill-opacity="0.17"/>
<polyline points="489.5,421.85 489.5,421.5 489.95,420.26 490.4,420.7 490.5,420 490.85,418.85 491.3,418.85 491.5,418.1 491.75,417.71 492.2,419.35 492.5,419 492.65,418.48 493.1,419.39 493.55,418.45 494,419.03 494,418.75 494.45,417.76 494.9,418.17 495.35,416.78 495.5,416.9 495.8,417.42 496.25,416.28 496.7,416.89 497.15,416.07 497.5,416.25 497.6,415.82 498,410.6 498.05,410.04 498.5,411.57 498.95,410.68 499,411.25 499.4,411.3 499.85,410.31 500.3,410.94 500.75,409.84 501.2,410.57 501.65,409.18 502,409.4 502.1,409.43 502.55,407.04 503,406.58 503,406.25 503.45,405.36 503.5,406 503.9,402.15 504,400.6 504.35,401.59 504.5,402.75 504.8,402.27 505,401.25 505.25,400.65 505.7,401.28 506.15,400.42 506.6,401.15 507.05,399.92 507.5,400.7 507.95,399.52 508.4,400.36 508.85,398.81 509,399.4 509.5,390 510,395.6 510.4,390 510.8,395.6 511.2,390 511.6,394 512,389 512.2,365 512.5,380.6 513,383.1 514,380.6 515,383.1 516,380 517,380 517.5,376.25 518,372 519,372 519.2,368.75 521.5,368.75 521.7,365.6 524,365.6 524.2,361.9 526.3,361.9 526.5,325.6 527,325.6 527.3,337.5 530.5,337.5 530.6,332.9 536.5,332.9 536.6,323.5 541,323.5 541.2,291 544,291 544.3,299.4 587,299.4 587.2,293.75 627.8,293.75" fill="none" stroke="#16302f" stroke-width="1.5" stroke-linejoin="round"/>
<text transform="rotate(0.1 475.25 430.75)" x="475.25" y="430.75" text-anchor="end" font-size="11.73" fill="#3c3c3c">0</text>
<text transform="rotate(0.1 475.25 389.45)" x="475.25" y="389.45" text-anchor="end" font-size="11.73" fill="#3c3c3c">5000</text>
<text transform="rotate(0.1 475.25 348.15)" x="475.25" y="348.15" text-anchor="end" font-size="11.73" fill="#3c3c3c">10000</text>
<text transform="rotate(0.1 475.25 306.85)" x="475.25" y="306.85" text-anchor="end" font-size="11.73" fill="#3c3c3c">15000</text>
<text transform="rotate(0.1 483.4 445.9)" x="483.4" y="445.9" text-anchor="middle" font-size="11.73" fill="#3c3c3c">0</text>
<text transform="rotate(0.1 512.22 445.9)" x="512.22" y="445.9" text-anchor="middle" font-size="11.73" fill="#3c3c3c">1</text>
<text transform="rotate(0.1 541.04 445.9)" x="541.04" y="445.9" text-anchor="middle" font-size="11.73" fill="#3c3c3c">2</text>
<text transform="rotate(0.1 569.86 445.9)" x="569.86" y="445.9" text-anchor="middle" font-size="11.73" fill="#3c3c3c">3</text>
<text transform="rotate(0.1 598.68 445.9)" x="598.68" y="445.9" text-anchor="middle" font-size="11.73" fill="#3c3c3c">4</text>
<text transform="rotate(0.1 627.5 445.9)" x="627.5" y="445.9" text-anchor="middle" font-size="11.73" fill="#3c3c3c">5</text>
<text transform="rotate(0.1 339.3 462.6)" x="339.3" y="462.6" text-anchor="middle" font-size="14.67" fill="#000000">carat</text>
</svg>
</body></html>
